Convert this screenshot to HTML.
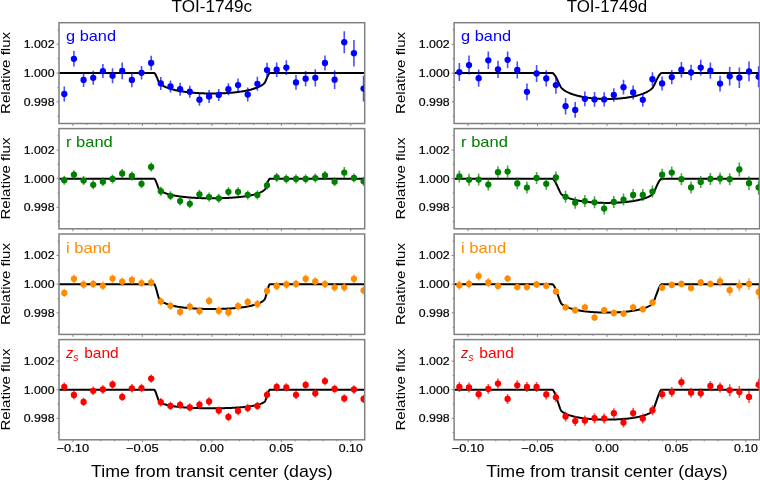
<!DOCTYPE html><html><head><meta charset="utf-8"><style>html,body{margin:0;padding:0;background:#fff;}svg{display:block;will-change:transform;}text{font-family:"Liberation Sans", sans-serif;} .k{stroke:#000;stroke-width:0.2px;}</style></head><body>
<svg width="760" height="480" viewBox="0 0 760 480">
<rect width="760" height="480" fill="#fff"/>
<defs>
<clipPath id="cL0"><rect x="59" y="22.7" width="305.7" height="100.8"/></clipPath>
<clipPath id="cL1"><rect x="59" y="128.6" width="305.7" height="100.2"/></clipPath>
<clipPath id="cL2"><rect x="59" y="234" width="305.7" height="100.4"/></clipPath>
<clipPath id="cL3"><rect x="59" y="339.6" width="305.7" height="100.2"/></clipPath>
<clipPath id="cR0"><rect x="454.1" y="22.7" width="305.5" height="100.8"/></clipPath>
<clipPath id="cR1"><rect x="454.1" y="128.6" width="305.5" height="100.2"/></clipPath>
<clipPath id="cR2"><rect x="454.1" y="234" width="305.5" height="100.4"/></clipPath>
<clipPath id="cR3"><rect x="454.1" y="339.6" width="305.5" height="100.2"/></clipPath>
</defs>
<g clip-path="url(#cL0)">
<polyline points="59,73.1 59.77,73.1 60.53,73.1 61.3,73.1 62.06,73.1 62.83,73.1 63.6,73.1 64.36,73.1 65.13,73.1 65.9,73.1 66.66,73.1 67.43,73.1 68.19,73.1 68.96,73.1 69.73,73.1 70.49,73.1 71.26,73.1 72.02,73.1 72.79,73.1 73.56,73.1 74.32,73.1 75.09,73.1 75.86,73.1 76.62,73.1 77.39,73.1 78.15,73.1 78.92,73.1 79.69,73.1 80.45,73.1 81.22,73.1 81.98,73.1 82.75,73.1 83.52,73.1 84.28,73.1 85.05,73.1 85.82,73.1 86.58,73.1 87.35,73.1 88.11,73.1 88.88,73.1 89.65,73.1 90.41,73.1 91.18,73.1 91.95,73.1 92.71,73.1 93.48,73.1 94.24,73.1 95.01,73.1 95.78,73.1 96.54,73.1 97.31,73.1 98.07,73.1 98.84,73.1 99.61,73.1 100.37,73.1 101.14,73.1 101.91,73.1 102.67,73.1 103.44,73.1 104.2,73.1 104.97,73.1 105.74,73.1 106.5,73.1 107.27,73.1 108.03,73.1 108.8,73.1 109.57,73.1 110.33,73.1 111.1,73.1 111.87,73.1 112.63,73.1 113.4,73.1 114.16,73.1 114.93,73.1 115.7,73.1 116.46,73.1 117.23,73.1 117.99,73.1 118.76,73.1 119.53,73.1 120.29,73.1 121.06,73.1 121.83,73.1 122.59,73.1 123.36,73.1 124.12,73.1 124.89,73.1 125.66,73.1 126.42,73.1 127.19,73.1 127.95,73.1 128.72,73.1 129.49,73.1 130.25,73.1 131.02,73.1 131.79,73.1 132.55,73.1 133.32,73.1 134.08,73.1 134.85,73.1 135.62,73.1 136.38,73.1 137.15,73.1 137.92,73.1 138.68,73.1 139.45,73.1 140.21,73.1 140.98,73.1 141.75,73.1 142.51,73.1 143.28,73.1 144.04,73.1 144.81,73.1 145.58,73.1 146.34,73.1 147.11,73.1 147.88,73.1 148.64,73.1 149.41,73.1 150.17,73.1 150.94,73.1 151.71,73.1 152.2,73.1 152.4,73.1 152.47,73.1 152.6,73.1 152.8,73.1 153,73.1 153.2,73.1 153.24,73.1 153.4,73.1 153.6,73.1 153.8,73.1 154,73.1 154,73.1 154.2,73.1 154.4,73.17 154.6,73.31 154.77,73.47 154.8,73.5 155,73.74 155.2,74.01 155.4,74.32 155.54,74.54 155.6,74.65 155.8,75.02 156,75.41 156.2,75.83 156.3,76.05 157.07,77.82 157.2,78.14 157.4,78.63 157.6,79.13 157.8,79.63 157.84,79.71 158,80.12 158.2,80.6 158.4,81.07 158.6,81.53 158.6,81.53 158.8,81.96 159,82.35 159.2,82.67 159.37,82.88 159.4,82.91 159.6,83.13 159.8,83.34 160,83.53 160.13,83.66 160.2,83.72 160.4,83.89 160.6,84.06 160.8,84.22 160.9,84.3 161,84.38 161.2,84.53 161.67,84.86 162.43,85.37 163.2,85.82 163.96,86.24 164.73,86.62 165.5,86.98 166.26,87.32 167.03,87.63 167.8,87.92 168.56,88.2 169.33,88.47 170.09,88.72 170.86,88.95 171.63,89.18 172.39,89.39 173.16,89.6 173.92,89.79 174.69,89.98 175.46,90.16 176.22,90.33 176.99,90.5 177.76,90.65 178.52,90.8 179.29,90.95 180.05,91.09 180.82,91.22 181.59,91.35 182.35,91.47 183.12,91.59 183.88,91.7 184.65,91.81 185.42,91.91 186.18,92.01 186.95,92.11 187.72,92.2 188.48,92.28 189.25,92.37 190.01,92.45 190.78,92.53 191.55,92.6 192.31,92.67 193.08,92.74 193.85,92.8 194.61,92.86 195.38,92.92 196.14,92.97 196.91,93.02 197.68,93.07 198.44,93.12 199.21,93.16 199.97,93.2 200.74,93.24 201.51,93.27 202.27,93.31 203.04,93.33 203.81,93.36 204.57,93.39 205.34,93.41 206.1,93.43 206.87,93.45 207.64,93.46 208.4,93.47 209.17,93.48 209.93,93.49 210.7,93.5 211.47,93.5 212.23,93.5 213,93.5 213.77,93.49 214.53,93.49 215.3,93.48 216.06,93.47 216.83,93.45 217.6,93.44 218.36,93.42 219.13,93.4 219.89,93.37 220.66,93.35 221.43,93.32 222.19,93.29 222.96,93.25 223.73,93.22 224.49,93.18 225.26,93.13 226.02,93.09 226.79,93.04 227.56,92.99 228.32,92.94 229.09,92.88 229.85,92.82 230.62,92.76 231.39,92.7 232.15,92.63 232.92,92.55 233.69,92.48 234.45,92.4 235.22,92.32 235.98,92.23 236.75,92.14 237.52,92.05 238.28,91.95 239.05,91.85 239.82,91.74 240.58,91.63 241.35,91.52 242.11,91.4 242.88,91.27 243.65,91.14 244.41,91 245.18,90.86 245.94,90.71 246.71,90.56 247.48,90.4 248.24,90.23 249.01,90.05 249.78,89.87 250.54,89.68 251.31,89.48 252.07,89.26 252.84,89.04 253.61,88.81 254.37,88.57 255.14,88.31 255.9,88.04 256.67,87.75 257.44,87.44 258.2,87.12 258.97,86.77 259.74,86.39 260.5,85.99 261.27,85.55 262.03,85.07 262.8,84.53 263,84.38 263.2,84.22 263.4,84.06 263.57,83.92 263.6,83.89 263.8,83.72 264,83.53 264.2,83.34 264.33,83.2 264.4,83.13 264.6,82.91 264.8,82.67 265,82.35 265.1,82.16 265.2,81.96 265.4,81.53 265.6,81.07 265.8,80.6 265.86,80.45 266,80.12 266.2,79.63 266.4,79.13 266.6,78.63 266.63,78.55 266.8,78.14 267.4,76.72 267.8,75.83 268,75.41 268.16,75.09 268.2,75.02 268.4,74.65 268.6,74.32 268.8,74.01 268.93,73.83 269,73.74 269.2,73.5 269.4,73.31 269.6,73.17 269.7,73.13 269.8,73.1 270,73.1 270.2,73.1 270.4,73.1 270.46,73.1 270.6,73.1 270.8,73.1 271,73.1 271.2,73.1 271.23,73.1 271.4,73.1 271.6,73.1 271.8,73.1 271.99,73.1 272.76,73.1 273.53,73.1 274.29,73.1 275.06,73.1 275.82,73.1 276.59,73.1 277.36,73.1 278.12,73.1 278.89,73.1 279.66,73.1 280.42,73.1 281.19,73.1 281.95,73.1 282.72,73.1 283.49,73.1 284.25,73.1 285.02,73.1 285.78,73.1 286.55,73.1 287.32,73.1 288.08,73.1 288.85,73.1 289.62,73.1 290.38,73.1 291.15,73.1 291.91,73.1 292.68,73.1 293.45,73.1 294.21,73.1 294.98,73.1 295.75,73.1 296.51,73.1 297.28,73.1 298.04,73.1 298.81,73.1 299.58,73.1 300.34,73.1 301.11,73.1 301.87,73.1 302.64,73.1 303.41,73.1 304.17,73.1 304.94,73.1 305.71,73.1 306.47,73.1 307.24,73.1 308,73.1 308.77,73.1 309.54,73.1 310.3,73.1 311.07,73.1 311.83,73.1 312.6,73.1 313.37,73.1 314.13,73.1 314.9,73.1 315.67,73.1 316.43,73.1 317.2,73.1 317.96,73.1 318.73,73.1 319.5,73.1 320.26,73.1 321.03,73.1 321.79,73.1 322.56,73.1 323.33,73.1 324.09,73.1 324.86,73.1 325.63,73.1 326.39,73.1 327.16,73.1 327.92,73.1 328.69,73.1 329.46,73.1 330.22,73.1 330.99,73.1 331.75,73.1 332.52,73.1 333.29,73.1 334.05,73.1 334.82,73.1 335.59,73.1 336.35,73.1 337.12,73.1 337.88,73.1 338.65,73.1 339.42,73.1 340.18,73.1 340.95,73.1 341.72,73.1 342.48,73.1 343.25,73.1 344.01,73.1 344.78,73.1 345.55,73.1 346.31,73.1 347.08,73.1 347.84,73.1 348.61,73.1 349.38,73.1 350.14,73.1 350.91,73.1 351.68,73.1 352.44,73.1 353.21,73.1 353.97,73.1 354.74,73.1 355.51,73.1 356.27,73.1 357.04,73.1 357.8,73.1 358.57,73.1 359.34,73.1 360.1,73.1 360.87,73.1 361.64,73.1 362.4,73.1 363.17,73.1 363.93,73.1 364.7,73.1" fill="none" stroke="#000" stroke-width="2"/>
<path d="M64.27 86.4V101.6M73.92 51V66.6M83.58 72.9V86.9M93.23 70.8V84.8M102.89 64.1V78.1M112.54 68.2V83.2M122.2 62.6V79.2M131.85 72.6V87.2M141.51 66.1V79.5M151.16 55.7V70.3M160.82 76.9V89.9M170.47 80.5V92.5M180.13 82.75V95.75M189.78 85.75V97.75M199.44 93.7V105.7M209.09 90V103M218.75 88.9V100.9M228.4 83.25V95.25M238.06 78.6V91.6M247.71 87.5V101.5M257.37 76.8V90.8M267.02 62.8V77.4M276.68 62.4V77M286.33 60.3V74.9M295.99 75.1V89.7M305.64 71.1V86.3M315.3 69.2V86.4M324.95 55.4V70.6M334.61 70.3V89.1M344.26 31.2V53.2M353.92 39.9V66.5M363.57 75.8V101.4" stroke="#0000ff" stroke-width="1.6" stroke-opacity="0.7" fill="none"/>
<g fill="#0000ff"><circle cx="64.27" cy="94" r="3.15"/><circle cx="73.92" cy="58.8" r="3.15"/><circle cx="83.58" cy="79.9" r="3.15"/><circle cx="93.23" cy="77.8" r="3.15"/><circle cx="102.89" cy="71.1" r="3.15"/><circle cx="112.54" cy="75.7" r="3.15"/><circle cx="122.2" cy="70.9" r="3.15"/><circle cx="131.85" cy="79.9" r="3.15"/><circle cx="141.51" cy="72.8" r="3.15"/><circle cx="151.16" cy="63" r="3.15"/><circle cx="160.82" cy="83.4" r="3.15"/><circle cx="170.47" cy="86.5" r="3.15"/><circle cx="180.13" cy="89.25" r="3.15"/><circle cx="189.78" cy="91.75" r="3.15"/><circle cx="199.44" cy="99.7" r="3.15"/><circle cx="209.09" cy="96.5" r="3.15"/><circle cx="218.75" cy="94.9" r="3.15"/><circle cx="228.4" cy="89.25" r="3.15"/><circle cx="238.06" cy="85.1" r="3.15"/><circle cx="247.71" cy="94.5" r="3.15"/><circle cx="257.37" cy="83.8" r="3.15"/><circle cx="267.02" cy="70.1" r="3.15"/><circle cx="276.68" cy="69.7" r="3.15"/><circle cx="286.33" cy="67.6" r="3.15"/><circle cx="295.99" cy="82.4" r="3.15"/><circle cx="305.64" cy="78.7" r="3.15"/><circle cx="315.3" cy="77.8" r="3.15"/><circle cx="324.95" cy="63" r="3.15"/><circle cx="334.61" cy="79.7" r="3.15"/><circle cx="344.26" cy="42.2" r="3.15"/><circle cx="353.92" cy="53.2" r="3.15"/><circle cx="363.57" cy="88.6" r="3.15"/></g>
</g>
<rect x="59" y="22.7" width="305.7" height="100.8" fill="none" stroke="#808080" stroke-width="1.5"/>
<path d="M56.5 101.9H59M56.5 73.1H59M56.5 44.3H59M57.5 116.3H59M57.5 87.5H59M57.5 58.7H59M57.5 29.9H59M72.9 123.5V126M86.79 123.5V125M100.69 123.5V125M114.58 123.5V125M128.48 123.5V125M142.37 123.5V126M156.27 123.5V125M170.16 123.5V125M184.06 123.5V125M197.95 123.5V125M211.85 123.5V126M225.75 123.5V125M239.64 123.5V125M253.54 123.5V125M267.43 123.5V125M281.33 123.5V126M295.22 123.5V125M309.12 123.5V125M323.01 123.5V125M336.91 123.5V125M350.8 123.5V126" stroke="#808080" stroke-width="0.9" fill="none"/>
<text x="54.5" y="48.2" font-size="11.6" text-anchor="end" textLength="30.8" lengthAdjust="spacingAndGlyphs" fill="#000" class="k">1.002</text>
<text x="54.5" y="77" font-size="11.6" text-anchor="end" textLength="30.8" lengthAdjust="spacingAndGlyphs" fill="#000" class="k">1.000</text>
<text x="54.5" y="105.8" font-size="11.6" text-anchor="end" textLength="30.8" lengthAdjust="spacingAndGlyphs" fill="#000" class="k">0.998</text>
<text transform="translate(10.1 72.9) rotate(-90)" font-size="13.6" text-anchor="middle" textLength="82" lengthAdjust="spacingAndGlyphs" fill="#000">Relative flux</text>
<text x="66" y="41.3" font-size="14.6" textLength="50" lengthAdjust="spacingAndGlyphs" fill="#0000ff">g band</text>
<g clip-path="url(#cL1)">
<polyline points="59,178.7 59.77,178.7 60.53,178.7 61.3,178.7 62.06,178.7 62.83,178.7 63.6,178.7 64.36,178.7 65.13,178.7 65.9,178.7 66.66,178.7 67.43,178.7 68.19,178.7 68.96,178.7 69.73,178.7 70.49,178.7 71.26,178.7 72.02,178.7 72.79,178.7 73.56,178.7 74.32,178.7 75.09,178.7 75.86,178.7 76.62,178.7 77.39,178.7 78.15,178.7 78.92,178.7 79.69,178.7 80.45,178.7 81.22,178.7 81.98,178.7 82.75,178.7 83.52,178.7 84.28,178.7 85.05,178.7 85.82,178.7 86.58,178.7 87.35,178.7 88.11,178.7 88.88,178.7 89.65,178.7 90.41,178.7 91.18,178.7 91.95,178.7 92.71,178.7 93.48,178.7 94.24,178.7 95.01,178.7 95.78,178.7 96.54,178.7 97.31,178.7 98.07,178.7 98.84,178.7 99.61,178.7 100.37,178.7 101.14,178.7 101.91,178.7 102.67,178.7 103.44,178.7 104.2,178.7 104.97,178.7 105.74,178.7 106.5,178.7 107.27,178.7 108.03,178.7 108.8,178.7 109.57,178.7 110.33,178.7 111.1,178.7 111.87,178.7 112.63,178.7 113.4,178.7 114.16,178.7 114.93,178.7 115.7,178.7 116.46,178.7 117.23,178.7 117.99,178.7 118.76,178.7 119.53,178.7 120.29,178.7 121.06,178.7 121.83,178.7 122.59,178.7 123.36,178.7 124.12,178.7 124.89,178.7 125.66,178.7 126.42,178.7 127.19,178.7 127.95,178.7 128.72,178.7 129.49,178.7 130.25,178.7 131.02,178.7 131.79,178.7 132.55,178.7 133.32,178.7 134.08,178.7 134.85,178.7 135.62,178.7 136.38,178.7 137.15,178.7 137.92,178.7 138.68,178.7 139.45,178.7 140.21,178.7 140.98,178.7 141.75,178.7 142.51,178.7 143.28,178.7 144.04,178.7 144.81,178.7 145.58,178.7 146.34,178.7 147.11,178.7 147.88,178.7 148.64,178.7 149.41,178.7 150.17,178.7 150.94,178.7 151.71,178.7 152.2,178.7 152.4,178.7 152.47,178.7 152.6,178.7 152.8,178.7 153,178.7 153.2,178.7 153.24,178.7 153.4,178.7 153.6,178.7 153.8,178.7 154,178.7 154,178.7 154.2,178.7 154.4,178.79 154.6,178.97 154.77,179.18 154.8,179.21 155,179.5 155.2,179.83 155.4,180.2 155.54,180.47 155.6,180.6 155.8,181.04 156,181.5 156.2,181.98 156.3,182.24 157.07,184.25 157.2,184.61 157.4,185.16 157.6,185.72 157.8,186.26 157.84,186.36 158,186.8 158.2,187.32 158.4,187.83 158.6,188.32 158.6,188.32 158.8,188.77 159,189.17 159.2,189.48 159.37,189.66 159.4,189.69 159.6,189.88 159.8,190.06 160,190.23 160.13,190.34 160.2,190.39 160.4,190.54 160.6,190.69 160.8,190.83 160.9,190.89 161,190.96 161.2,191.09 161.67,191.38 162.43,191.8 163.2,192.19 163.96,192.54 164.73,192.86 165.5,193.16 166.26,193.44 167.03,193.7 167.8,193.94 168.56,194.17 169.33,194.38 170.09,194.59 170.86,194.78 171.63,194.96 172.39,195.13 173.16,195.3 173.92,195.46 174.69,195.6 175.46,195.75 176.22,195.88 176.99,196.01 177.76,196.13 178.52,196.25 179.29,196.37 180.05,196.47 180.82,196.58 181.59,196.68 182.35,196.77 183.12,196.86 183.88,196.95 184.65,197.03 185.42,197.11 186.18,197.19 186.95,197.26 187.72,197.33 188.48,197.39 189.25,197.46 190.01,197.52 190.78,197.58 191.55,197.63 192.31,197.68 193.08,197.73 193.85,197.78 194.61,197.83 195.38,197.87 196.14,197.91 196.91,197.95 197.68,197.98 198.44,198.02 199.21,198.05 199.97,198.08 200.74,198.11 201.51,198.13 202.27,198.16 203.04,198.18 203.81,198.2 204.57,198.22 205.34,198.23 206.1,198.25 206.87,198.26 207.64,198.27 208.4,198.28 209.17,198.29 209.93,198.29 210.7,198.3 211.47,198.3 212.23,198.3 213,198.3 213.77,198.3 214.53,198.29 215.3,198.28 216.06,198.28 216.83,198.27 217.6,198.25 218.36,198.24 219.13,198.22 219.89,198.21 220.66,198.19 221.43,198.17 222.19,198.14 222.96,198.12 223.73,198.09 224.49,198.06 225.26,198.03 226.02,198 226.79,197.96 227.56,197.92 228.32,197.89 229.09,197.84 229.85,197.8 230.62,197.75 231.39,197.7 232.15,197.65 232.92,197.6 233.69,197.54 234.45,197.48 235.22,197.42 235.98,197.35 236.75,197.29 237.52,197.21 238.28,197.14 239.05,197.06 239.82,196.98 240.58,196.9 241.35,196.81 242.11,196.71 242.88,196.62 243.65,196.51 244.41,196.41 245.18,196.3 245.94,196.18 246.71,196.06 247.48,195.93 248.24,195.8 249.01,195.66 249.78,195.51 250.54,195.36 251.31,195.2 252.07,195.03 252.84,194.85 253.61,194.66 254.37,194.47 255.14,194.25 255.9,194.03 256.67,193.79 257.44,193.54 258.2,193.27 258.97,192.98 259.74,192.67 260.5,192.33 261.27,191.96 262.03,191.55 262.8,191.09 263,190.96 263.2,190.83 263.4,190.69 263.57,190.57 263.6,190.54 263.8,190.39 264,190.23 264.2,190.06 264.33,189.94 264.4,189.88 264.6,189.69 264.8,189.48 265,189.17 265.1,188.97 265.2,188.77 265.4,188.32 265.6,187.83 265.8,187.32 265.86,187.16 266,186.8 266.2,186.26 266.4,185.72 266.6,185.16 266.63,185.07 266.8,184.61 267.4,183.01 267.8,181.98 268,181.5 268.16,181.12 268.2,181.04 268.4,180.6 268.6,180.2 268.8,179.83 268.93,179.61 269,179.5 269.2,179.21 269.4,178.97 269.6,178.79 269.7,178.74 269.8,178.7 270,178.7 270.2,178.7 270.4,178.7 270.46,178.7 270.6,178.7 270.8,178.7 271,178.7 271.2,178.7 271.23,178.7 271.4,178.7 271.6,178.7 271.8,178.7 271.99,178.7 272.76,178.7 273.53,178.7 274.29,178.7 275.06,178.7 275.82,178.7 276.59,178.7 277.36,178.7 278.12,178.7 278.89,178.7 279.66,178.7 280.42,178.7 281.19,178.7 281.95,178.7 282.72,178.7 283.49,178.7 284.25,178.7 285.02,178.7 285.78,178.7 286.55,178.7 287.32,178.7 288.08,178.7 288.85,178.7 289.62,178.7 290.38,178.7 291.15,178.7 291.91,178.7 292.68,178.7 293.45,178.7 294.21,178.7 294.98,178.7 295.75,178.7 296.51,178.7 297.28,178.7 298.04,178.7 298.81,178.7 299.58,178.7 300.34,178.7 301.11,178.7 301.87,178.7 302.64,178.7 303.41,178.7 304.17,178.7 304.94,178.7 305.71,178.7 306.47,178.7 307.24,178.7 308,178.7 308.77,178.7 309.54,178.7 310.3,178.7 311.07,178.7 311.83,178.7 312.6,178.7 313.37,178.7 314.13,178.7 314.9,178.7 315.67,178.7 316.43,178.7 317.2,178.7 317.96,178.7 318.73,178.7 319.5,178.7 320.26,178.7 321.03,178.7 321.79,178.7 322.56,178.7 323.33,178.7 324.09,178.7 324.86,178.7 325.63,178.7 326.39,178.7 327.16,178.7 327.92,178.7 328.69,178.7 329.46,178.7 330.22,178.7 330.99,178.7 331.75,178.7 332.52,178.7 333.29,178.7 334.05,178.7 334.82,178.7 335.59,178.7 336.35,178.7 337.12,178.7 337.88,178.7 338.65,178.7 339.42,178.7 340.18,178.7 340.95,178.7 341.72,178.7 342.48,178.7 343.25,178.7 344.01,178.7 344.78,178.7 345.55,178.7 346.31,178.7 347.08,178.7 347.84,178.7 348.61,178.7 349.38,178.7 350.14,178.7 350.91,178.7 351.68,178.7 352.44,178.7 353.21,178.7 353.97,178.7 354.74,178.7 355.51,178.7 356.27,178.7 357.04,178.7 357.8,178.7 358.57,178.7 359.34,178.7 360.1,178.7 360.87,178.7 361.64,178.7 362.4,178.7 363.17,178.7 363.93,178.7 364.7,178.7" fill="none" stroke="#000" stroke-width="2"/>
<path d="M64.27 175.7V184.7M73.92 170.2V179.2M83.58 176.1V185.1M93.23 180.3V189.3M102.89 177.2V186.2M112.54 174.4V183.4M122.2 169V178M131.85 171.5V180.5M141.51 179.3V188.3M151.16 162.5V171.5M160.82 186.7V195.7M170.47 191.3V200.3M180.13 196.55V205.55M189.78 199.3V208.3M199.44 189.8V198.8M209.09 192.55V201.55M218.75 193.8V202.8M228.4 187.3V196.3M238.06 187.3V196.3M247.71 190.4V199.4M257.37 190.4V199.4M267.02 180.8V189.8M276.68 173V182M286.33 174.4V183.4M295.99 174.4V183.4M305.64 174.4V183.4M315.3 173.6V182.6M324.95 170.9V179.9M334.61 177.2V186.2M344.26 167.1V178.1M353.92 173.4V182.4M363.57 176.8V185.8" stroke="#008000" stroke-width="1.6" stroke-opacity="0.7" fill="none"/>
<g fill="#008000"><circle cx="64.27" cy="180.2" r="3.15"/><circle cx="73.92" cy="174.7" r="3.15"/><circle cx="83.58" cy="180.6" r="3.15"/><circle cx="93.23" cy="184.8" r="3.15"/><circle cx="102.89" cy="181.7" r="3.15"/><circle cx="112.54" cy="178.9" r="3.15"/><circle cx="122.2" cy="173.5" r="3.15"/><circle cx="131.85" cy="176" r="3.15"/><circle cx="141.51" cy="183.8" r="3.15"/><circle cx="151.16" cy="167" r="3.15"/><circle cx="160.82" cy="191.2" r="3.15"/><circle cx="170.47" cy="195.8" r="3.15"/><circle cx="180.13" cy="201.05" r="3.15"/><circle cx="189.78" cy="203.8" r="3.15"/><circle cx="199.44" cy="194.3" r="3.15"/><circle cx="209.09" cy="197.05" r="3.15"/><circle cx="218.75" cy="198.3" r="3.15"/><circle cx="228.4" cy="191.8" r="3.15"/><circle cx="238.06" cy="191.8" r="3.15"/><circle cx="247.71" cy="194.9" r="3.15"/><circle cx="257.37" cy="194.9" r="3.15"/><circle cx="267.02" cy="185.3" r="3.15"/><circle cx="276.68" cy="177.5" r="3.15"/><circle cx="286.33" cy="178.9" r="3.15"/><circle cx="295.99" cy="178.9" r="3.15"/><circle cx="305.64" cy="178.9" r="3.15"/><circle cx="315.3" cy="178.1" r="3.15"/><circle cx="324.95" cy="175.4" r="3.15"/><circle cx="334.61" cy="181.7" r="3.15"/><circle cx="344.26" cy="172.6" r="3.15"/><circle cx="353.92" cy="177.9" r="3.15"/><circle cx="363.57" cy="181.3" r="3.15"/></g>
</g>
<rect x="59" y="128.6" width="305.7" height="100.2" fill="none" stroke="#808080" stroke-width="1.5"/>
<path d="M56.5 207.33H59M56.5 178.7H59M56.5 150.07H59M57.5 221.64H59M57.5 193.01H59M57.5 164.39H59M57.5 135.76H59M72.9 228.8V231.3M86.79 228.8V230.3M100.69 228.8V230.3M114.58 228.8V230.3M128.48 228.8V230.3M142.37 228.8V231.3M156.27 228.8V230.3M170.16 228.8V230.3M184.06 228.8V230.3M197.95 228.8V230.3M211.85 228.8V231.3M225.75 228.8V230.3M239.64 228.8V230.3M253.54 228.8V230.3M267.43 228.8V230.3M281.33 228.8V231.3M295.22 228.8V230.3M309.12 228.8V230.3M323.01 228.8V230.3M336.91 228.8V230.3M350.8 228.8V231.3" stroke="#808080" stroke-width="0.9" fill="none"/>
<text x="54.5" y="153.97" font-size="11.6" text-anchor="end" textLength="30.8" lengthAdjust="spacingAndGlyphs" fill="#000" class="k">1.002</text>
<text x="54.5" y="182.6" font-size="11.6" text-anchor="end" textLength="30.8" lengthAdjust="spacingAndGlyphs" fill="#000" class="k">1.000</text>
<text x="54.5" y="211.23" font-size="11.6" text-anchor="end" textLength="30.8" lengthAdjust="spacingAndGlyphs" fill="#000" class="k">0.998</text>
<text transform="translate(10.1 178.5) rotate(-90)" font-size="13.6" text-anchor="middle" textLength="82" lengthAdjust="spacingAndGlyphs" fill="#000">Relative flux</text>
<text x="66" y="147.2" font-size="14.6" textLength="46.8" lengthAdjust="spacingAndGlyphs" fill="#008000">r band</text>
<g clip-path="url(#cL2)">
<polyline points="59,284.2 59.77,284.2 60.53,284.2 61.3,284.2 62.06,284.2 62.83,284.2 63.6,284.2 64.36,284.2 65.13,284.2 65.9,284.2 66.66,284.2 67.43,284.2 68.19,284.2 68.96,284.2 69.73,284.2 70.49,284.2 71.26,284.2 72.02,284.2 72.79,284.2 73.56,284.2 74.32,284.2 75.09,284.2 75.86,284.2 76.62,284.2 77.39,284.2 78.15,284.2 78.92,284.2 79.69,284.2 80.45,284.2 81.22,284.2 81.98,284.2 82.75,284.2 83.52,284.2 84.28,284.2 85.05,284.2 85.82,284.2 86.58,284.2 87.35,284.2 88.11,284.2 88.88,284.2 89.65,284.2 90.41,284.2 91.18,284.2 91.95,284.2 92.71,284.2 93.48,284.2 94.24,284.2 95.01,284.2 95.78,284.2 96.54,284.2 97.31,284.2 98.07,284.2 98.84,284.2 99.61,284.2 100.37,284.2 101.14,284.2 101.91,284.2 102.67,284.2 103.44,284.2 104.2,284.2 104.97,284.2 105.74,284.2 106.5,284.2 107.27,284.2 108.03,284.2 108.8,284.2 109.57,284.2 110.33,284.2 111.1,284.2 111.87,284.2 112.63,284.2 113.4,284.2 114.16,284.2 114.93,284.2 115.7,284.2 116.46,284.2 117.23,284.2 117.99,284.2 118.76,284.2 119.53,284.2 120.29,284.2 121.06,284.2 121.83,284.2 122.59,284.2 123.36,284.2 124.12,284.2 124.89,284.2 125.66,284.2 126.42,284.2 127.19,284.2 127.95,284.2 128.72,284.2 129.49,284.2 130.25,284.2 131.02,284.2 131.79,284.2 132.55,284.2 133.32,284.2 134.08,284.2 134.85,284.2 135.62,284.2 136.38,284.2 137.15,284.2 137.92,284.2 138.68,284.2 139.45,284.2 140.21,284.2 140.98,284.2 141.75,284.2 142.51,284.2 143.28,284.2 144.04,284.2 144.81,284.2 145.58,284.2 146.34,284.2 147.11,284.2 147.88,284.2 148.64,284.2 149.41,284.2 150.17,284.2 150.94,284.2 151.71,284.2 152.2,284.2 152.4,284.2 152.47,284.2 152.6,284.2 152.8,284.2 153,284.2 153.2,284.2 153.24,284.2 153.4,284.2 153.6,284.2 153.8,284.2 154,284.2 154,284.2 154.2,284.2 154.4,284.34 154.6,284.6 154.77,284.9 154.8,284.95 155,285.38 155.2,285.86 155.4,286.39 155.54,286.78 155.6,286.97 155.8,287.59 156,288.24 156.2,288.91 156.3,289.28 157.07,292.11 157.2,292.6 157.4,293.37 157.6,294.13 157.8,294.89 157.84,295.01 158,295.62 158.2,296.33 158.4,297.02 158.6,297.68 158.6,297.68 158.8,298.28 159,298.81 159.2,299.21 159.37,299.42 159.4,299.45 159.6,299.68 159.8,299.88 160,300.08 160.13,300.21 160.2,300.27 160.4,300.44 160.6,300.61 160.8,300.77 160.9,300.85 161,300.93 161.2,301.08 161.67,301.41 162.43,301.9 163.2,302.34 163.96,302.75 164.73,303.11 165.5,303.45 166.26,303.77 167.03,304.06 167.8,304.33 168.56,304.58 169.33,304.82 170.09,305.05 170.86,305.26 171.63,305.46 172.39,305.65 173.16,305.83 173.92,306 174.69,306.17 175.46,306.32 176.22,306.47 176.99,306.61 177.76,306.74 178.52,306.87 179.29,306.99 180.05,307.1 180.82,307.21 181.59,307.32 182.35,307.42 183.12,307.51 183.88,307.61 184.65,307.69 185.42,307.78 186.18,307.86 186.95,307.93 187.72,308 188.48,308.07 189.25,308.14 190.01,308.2 190.78,308.26 191.55,308.32 192.31,308.37 193.08,308.42 193.85,308.47 194.61,308.52 195.38,308.56 196.14,308.6 196.91,308.64 197.68,308.68 198.44,308.71 199.21,308.75 199.97,308.78 200.74,308.81 201.51,308.83 202.27,308.86 203.04,308.88 203.81,308.9 204.57,308.92 205.34,308.93 206.1,308.95 206.87,308.96 207.64,308.97 208.4,308.98 209.17,308.99 209.93,308.99 210.7,309 211.47,309 212.23,309 213,309 213.77,309 214.53,308.99 215.3,308.98 216.06,308.98 216.83,308.96 217.6,308.95 218.36,308.94 219.13,308.92 219.89,308.91 220.66,308.89 221.43,308.86 222.19,308.84 222.96,308.82 223.73,308.79 224.49,308.76 225.26,308.73 226.02,308.69 226.79,308.66 227.56,308.62 228.32,308.58 229.09,308.54 229.85,308.49 230.62,308.44 231.39,308.39 232.15,308.34 232.92,308.28 233.69,308.23 234.45,308.16 235.22,308.1 235.98,308.03 236.75,307.96 237.52,307.89 238.28,307.81 239.05,307.73 239.82,307.64 240.58,307.55 241.35,307.46 242.11,307.36 242.88,307.26 243.65,307.15 244.41,307.03 245.18,306.92 245.94,306.79 246.71,306.66 247.48,306.52 248.24,306.38 249.01,306.23 249.78,306.07 250.54,305.9 251.31,305.72 252.07,305.54 252.84,305.34 253.61,305.13 254.37,304.91 255.14,304.68 255.9,304.43 256.67,304.17 257.44,303.88 258.2,303.58 258.97,303.25 259.74,302.89 260.5,302.51 261.27,302.08 262.03,301.61 262.8,301.08 263,300.93 263.2,300.77 263.4,300.61 263.57,300.47 263.6,300.44 263.8,300.27 264,300.08 264.2,299.88 264.33,299.75 264.4,299.68 264.6,299.45 264.8,299.21 265,298.81 265.1,298.55 265.2,298.28 265.4,297.68 265.6,297.02 265.8,296.33 265.86,296.1 266,295.62 266.2,294.89 266.4,294.13 266.6,293.37 266.63,293.24 266.8,292.6 267.4,290.36 267.8,288.91 268,288.24 268.16,287.7 268.2,287.59 268.4,286.97 268.6,286.39 268.8,285.86 268.93,285.54 269,285.38 269.2,284.95 269.4,284.6 269.6,284.34 269.7,284.26 269.8,284.2 270,284.2 270.2,284.2 270.4,284.2 270.46,284.2 270.6,284.2 270.8,284.2 271,284.2 271.2,284.2 271.23,284.2 271.4,284.2 271.6,284.2 271.8,284.2 271.99,284.2 272.76,284.2 273.53,284.2 274.29,284.2 275.06,284.2 275.82,284.2 276.59,284.2 277.36,284.2 278.12,284.2 278.89,284.2 279.66,284.2 280.42,284.2 281.19,284.2 281.95,284.2 282.72,284.2 283.49,284.2 284.25,284.2 285.02,284.2 285.78,284.2 286.55,284.2 287.32,284.2 288.08,284.2 288.85,284.2 289.62,284.2 290.38,284.2 291.15,284.2 291.91,284.2 292.68,284.2 293.45,284.2 294.21,284.2 294.98,284.2 295.75,284.2 296.51,284.2 297.28,284.2 298.04,284.2 298.81,284.2 299.58,284.2 300.34,284.2 301.11,284.2 301.87,284.2 302.64,284.2 303.41,284.2 304.17,284.2 304.94,284.2 305.71,284.2 306.47,284.2 307.24,284.2 308,284.2 308.77,284.2 309.54,284.2 310.3,284.2 311.07,284.2 311.83,284.2 312.6,284.2 313.37,284.2 314.13,284.2 314.9,284.2 315.67,284.2 316.43,284.2 317.2,284.2 317.96,284.2 318.73,284.2 319.5,284.2 320.26,284.2 321.03,284.2 321.79,284.2 322.56,284.2 323.33,284.2 324.09,284.2 324.86,284.2 325.63,284.2 326.39,284.2 327.16,284.2 327.92,284.2 328.69,284.2 329.46,284.2 330.22,284.2 330.99,284.2 331.75,284.2 332.52,284.2 333.29,284.2 334.05,284.2 334.82,284.2 335.59,284.2 336.35,284.2 337.12,284.2 337.88,284.2 338.65,284.2 339.42,284.2 340.18,284.2 340.95,284.2 341.72,284.2 342.48,284.2 343.25,284.2 344.01,284.2 344.78,284.2 345.55,284.2 346.31,284.2 347.08,284.2 347.84,284.2 348.61,284.2 349.38,284.2 350.14,284.2 350.91,284.2 351.68,284.2 352.44,284.2 353.21,284.2 353.97,284.2 354.74,284.2 355.51,284.2 356.27,284.2 357.04,284.2 357.8,284.2 358.57,284.2 359.34,284.2 360.1,284.2 360.87,284.2 361.64,284.2 362.4,284.2 363.17,284.2 363.93,284.2 364.7,284.2" fill="none" stroke="#000" stroke-width="2"/>
<path d="M64.27 288.7V297.1M73.92 274.6V283M83.58 280.3V288.7M93.23 279.7V288.1M102.89 281.6V290M112.54 274.4V282.8M122.2 277.4V285.8M131.85 275.7V284.1M141.51 278.85V287.25M151.16 278.2V286.6M160.82 297.2V305.6M170.47 301.6V310M180.13 307.7V316.1M189.78 302.4V310.8M199.44 306.85V315.25M209.09 296.7V305.1M218.75 306.5V314.9M228.4 308.3V316.7M238.06 302V310.4M247.71 297.8V306.2M257.37 299.9V308.3M267.02 286.6V295M276.68 281.8V290.2M286.33 280.3V288.7M295.99 279.7V288.1M305.64 274.6V283M315.3 277.2V285.6M324.95 279.9V288.3M334.61 283.1V291.5M344.26 283.1V291.5M353.92 274.6V283M363.57 286.2V294.6" stroke="#ff8c00" stroke-width="1.6" stroke-opacity="0.7" fill="none"/>
<g fill="#ff8c00"><circle cx="64.27" cy="292.9" r="3.15"/><circle cx="73.92" cy="278.8" r="3.15"/><circle cx="83.58" cy="284.5" r="3.15"/><circle cx="93.23" cy="283.9" r="3.15"/><circle cx="102.89" cy="285.8" r="3.15"/><circle cx="112.54" cy="278.6" r="3.15"/><circle cx="122.2" cy="281.6" r="3.15"/><circle cx="131.85" cy="279.9" r="3.15"/><circle cx="141.51" cy="283.05" r="3.15"/><circle cx="151.16" cy="282.4" r="3.15"/><circle cx="160.82" cy="301.4" r="3.15"/><circle cx="170.47" cy="305.8" r="3.15"/><circle cx="180.13" cy="311.9" r="3.15"/><circle cx="189.78" cy="306.6" r="3.15"/><circle cx="199.44" cy="311.05" r="3.15"/><circle cx="209.09" cy="300.9" r="3.15"/><circle cx="218.75" cy="310.7" r="3.15"/><circle cx="228.4" cy="312.5" r="3.15"/><circle cx="238.06" cy="306.2" r="3.15"/><circle cx="247.71" cy="302" r="3.15"/><circle cx="257.37" cy="304.1" r="3.15"/><circle cx="267.02" cy="290.8" r="3.15"/><circle cx="276.68" cy="286" r="3.15"/><circle cx="286.33" cy="284.5" r="3.15"/><circle cx="295.99" cy="283.9" r="3.15"/><circle cx="305.64" cy="278.8" r="3.15"/><circle cx="315.3" cy="281.4" r="3.15"/><circle cx="324.95" cy="284.1" r="3.15"/><circle cx="334.61" cy="287.3" r="3.15"/><circle cx="344.26" cy="287.3" r="3.15"/><circle cx="353.92" cy="278.8" r="3.15"/><circle cx="363.57" cy="290.4" r="3.15"/></g>
</g>
<rect x="59" y="234" width="305.7" height="100.4" fill="none" stroke="#808080" stroke-width="1.5"/>
<path d="M56.5 312.89H59M56.5 284.2H59M56.5 255.51H59M57.5 327.23H59M57.5 298.54H59M57.5 269.86H59M57.5 241.17H59M72.9 334.4V336.9M86.79 334.4V335.9M100.69 334.4V335.9M114.58 334.4V335.9M128.48 334.4V335.9M142.37 334.4V336.9M156.27 334.4V335.9M170.16 334.4V335.9M184.06 334.4V335.9M197.95 334.4V335.9M211.85 334.4V336.9M225.75 334.4V335.9M239.64 334.4V335.9M253.54 334.4V335.9M267.43 334.4V335.9M281.33 334.4V336.9M295.22 334.4V335.9M309.12 334.4V335.9M323.01 334.4V335.9M336.91 334.4V335.9M350.8 334.4V336.9" stroke="#808080" stroke-width="0.9" fill="none"/>
<text x="54.5" y="259.41" font-size="11.6" text-anchor="end" textLength="30.8" lengthAdjust="spacingAndGlyphs" fill="#000" class="k">1.002</text>
<text x="54.5" y="288.1" font-size="11.6" text-anchor="end" textLength="30.8" lengthAdjust="spacingAndGlyphs" fill="#000" class="k">1.000</text>
<text x="54.5" y="316.79" font-size="11.6" text-anchor="end" textLength="30.8" lengthAdjust="spacingAndGlyphs" fill="#000" class="k">0.998</text>
<text transform="translate(10.1 284) rotate(-90)" font-size="13.6" text-anchor="middle" textLength="82" lengthAdjust="spacingAndGlyphs" fill="#000">Relative flux</text>
<text x="66" y="252.6" font-size="14.6" textLength="45" lengthAdjust="spacingAndGlyphs" fill="#ff8c00">i band</text>
<g clip-path="url(#cL3)">
<polyline points="59,389.7 59.77,389.7 60.53,389.7 61.3,389.7 62.06,389.7 62.83,389.7 63.6,389.7 64.36,389.7 65.13,389.7 65.9,389.7 66.66,389.7 67.43,389.7 68.19,389.7 68.96,389.7 69.73,389.7 70.49,389.7 71.26,389.7 72.02,389.7 72.79,389.7 73.56,389.7 74.32,389.7 75.09,389.7 75.86,389.7 76.62,389.7 77.39,389.7 78.15,389.7 78.92,389.7 79.69,389.7 80.45,389.7 81.22,389.7 81.98,389.7 82.75,389.7 83.52,389.7 84.28,389.7 85.05,389.7 85.82,389.7 86.58,389.7 87.35,389.7 88.11,389.7 88.88,389.7 89.65,389.7 90.41,389.7 91.18,389.7 91.95,389.7 92.71,389.7 93.48,389.7 94.24,389.7 95.01,389.7 95.78,389.7 96.54,389.7 97.31,389.7 98.07,389.7 98.84,389.7 99.61,389.7 100.37,389.7 101.14,389.7 101.91,389.7 102.67,389.7 103.44,389.7 104.2,389.7 104.97,389.7 105.74,389.7 106.5,389.7 107.27,389.7 108.03,389.7 108.8,389.7 109.57,389.7 110.33,389.7 111.1,389.7 111.87,389.7 112.63,389.7 113.4,389.7 114.16,389.7 114.93,389.7 115.7,389.7 116.46,389.7 117.23,389.7 117.99,389.7 118.76,389.7 119.53,389.7 120.29,389.7 121.06,389.7 121.83,389.7 122.59,389.7 123.36,389.7 124.12,389.7 124.89,389.7 125.66,389.7 126.42,389.7 127.19,389.7 127.95,389.7 128.72,389.7 129.49,389.7 130.25,389.7 131.02,389.7 131.79,389.7 132.55,389.7 133.32,389.7 134.08,389.7 134.85,389.7 135.62,389.7 136.38,389.7 137.15,389.7 137.92,389.7 138.68,389.7 139.45,389.7 140.21,389.7 140.98,389.7 141.75,389.7 142.51,389.7 143.28,389.7 144.04,389.7 144.81,389.7 145.58,389.7 146.34,389.7 147.11,389.7 147.88,389.7 148.64,389.7 149.41,389.7 150.17,389.7 150.94,389.7 151.71,389.7 152.2,389.7 152.4,389.7 152.47,389.7 152.6,389.7 152.8,389.7 153,389.7 153.2,389.7 153.24,389.7 153.4,389.7 153.6,389.7 153.8,389.7 154,389.7 154,389.7 154.2,389.7 154.4,389.81 154.6,390.03 154.77,390.28 154.8,390.32 155,390.67 155.2,391.06 155.4,391.49 155.54,391.81 155.6,391.96 155.8,392.46 156,392.98 156.2,393.52 156.3,393.82 157.07,396.07 157.2,396.46 157.4,397.07 157.6,397.67 157.8,398.27 157.84,398.36 158,398.84 158.2,399.4 158.4,399.94 158.6,400.45 158.6,400.45 158.8,400.91 159,401.32 159.2,401.62 159.37,401.76 159.4,401.79 159.6,401.94 159.8,402.09 160,402.23 160.13,402.31 160.2,402.35 160.4,402.48 160.6,402.6 160.8,402.71 160.9,402.76 161,402.82 161.2,402.92 161.67,403.15 162.43,403.49 163.2,403.8 163.96,404.08 164.73,404.33 165.5,404.56 166.26,404.78 167.03,404.98 167.8,405.16 168.56,405.34 169.33,405.5 170.09,405.66 170.86,405.8 171.63,405.94 172.39,406.07 173.16,406.19 173.92,406.31 174.69,406.42 175.46,406.52 176.22,406.62 176.99,406.71 177.76,406.8 178.52,406.89 179.29,406.97 180.05,407.05 180.82,407.12 181.59,407.19 182.35,407.26 183.12,407.32 183.88,407.38 184.65,407.44 185.42,407.5 186.18,407.55 186.95,407.6 187.72,407.65 188.48,407.69 189.25,407.74 190.01,407.78 190.78,407.82 191.55,407.85 192.31,407.89 193.08,407.92 193.85,407.96 194.61,407.99 195.38,408.01 196.14,408.04 196.91,408.07 197.68,408.09 198.44,408.11 199.21,408.13 199.97,408.15 200.74,408.17 201.51,408.19 202.27,408.21 203.04,408.22 203.81,408.23 204.57,408.25 205.34,408.26 206.1,408.27 206.87,408.27 207.64,408.28 208.4,408.29 209.17,408.29 209.93,408.3 210.7,408.3 211.47,408.3 212.23,408.3 213,408.3 213.77,408.3 214.53,408.29 215.3,408.29 216.06,408.28 216.83,408.28 217.6,408.27 218.36,408.26 219.13,408.25 219.89,408.24 220.66,408.23 221.43,408.21 222.19,408.2 222.96,408.18 223.73,408.16 224.49,408.14 225.26,408.12 226.02,408.1 226.79,408.08 227.56,408.05 228.32,408.03 229.09,408 229.85,407.97 230.62,407.94 231.39,407.9 232.15,407.87 232.92,407.83 233.69,407.79 234.45,407.75 235.22,407.71 235.98,407.66 236.75,407.62 237.52,407.57 238.28,407.52 239.05,407.46 239.82,407.4 240.58,407.34 241.35,407.28 242.11,407.22 242.88,407.15 243.65,407.08 244.41,407 245.18,406.92 245.94,406.84 246.71,406.75 247.48,406.66 248.24,406.56 249.01,406.46 249.78,406.35 250.54,406.24 251.31,406.12 252.07,405.99 252.84,405.86 253.61,405.71 254.37,405.56 255.14,405.4 255.9,405.23 256.67,405.05 257.44,404.86 258.2,404.65 258.97,404.42 259.74,404.18 260.5,403.91 261.27,403.62 262.03,403.29 262.8,402.92 263,402.82 263.2,402.71 263.4,402.6 263.57,402.5 263.6,402.48 263.8,402.35 264,402.23 264.2,402.09 264.33,401.99 264.4,401.94 264.6,401.79 264.8,401.62 265,401.32 265.1,401.12 265.2,400.91 265.4,400.45 265.6,399.94 265.8,399.4 265.86,399.22 266,398.84 266.2,398.27 266.4,397.67 266.6,397.07 266.63,396.97 266.8,396.46 267.4,394.68 267.8,393.52 268,392.98 268.16,392.55 268.2,392.46 268.4,391.96 268.6,391.49 268.8,391.06 268.93,390.8 269,390.67 269.2,390.32 269.4,390.03 269.6,389.81 269.7,389.75 269.8,389.7 270,389.7 270.2,389.7 270.4,389.7 270.46,389.7 270.6,389.7 270.8,389.7 271,389.7 271.2,389.7 271.23,389.7 271.4,389.7 271.6,389.7 271.8,389.7 271.99,389.7 272.76,389.7 273.53,389.7 274.29,389.7 275.06,389.7 275.82,389.7 276.59,389.7 277.36,389.7 278.12,389.7 278.89,389.7 279.66,389.7 280.42,389.7 281.19,389.7 281.95,389.7 282.72,389.7 283.49,389.7 284.25,389.7 285.02,389.7 285.78,389.7 286.55,389.7 287.32,389.7 288.08,389.7 288.85,389.7 289.62,389.7 290.38,389.7 291.15,389.7 291.91,389.7 292.68,389.7 293.45,389.7 294.21,389.7 294.98,389.7 295.75,389.7 296.51,389.7 297.28,389.7 298.04,389.7 298.81,389.7 299.58,389.7 300.34,389.7 301.11,389.7 301.87,389.7 302.64,389.7 303.41,389.7 304.17,389.7 304.94,389.7 305.71,389.7 306.47,389.7 307.24,389.7 308,389.7 308.77,389.7 309.54,389.7 310.3,389.7 311.07,389.7 311.83,389.7 312.6,389.7 313.37,389.7 314.13,389.7 314.9,389.7 315.67,389.7 316.43,389.7 317.2,389.7 317.96,389.7 318.73,389.7 319.5,389.7 320.26,389.7 321.03,389.7 321.79,389.7 322.56,389.7 323.33,389.7 324.09,389.7 324.86,389.7 325.63,389.7 326.39,389.7 327.16,389.7 327.92,389.7 328.69,389.7 329.46,389.7 330.22,389.7 330.99,389.7 331.75,389.7 332.52,389.7 333.29,389.7 334.05,389.7 334.82,389.7 335.59,389.7 336.35,389.7 337.12,389.7 337.88,389.7 338.65,389.7 339.42,389.7 340.18,389.7 340.95,389.7 341.72,389.7 342.48,389.7 343.25,389.7 344.01,389.7 344.78,389.7 345.55,389.7 346.31,389.7 347.08,389.7 347.84,389.7 348.61,389.7 349.38,389.7 350.14,389.7 350.91,389.7 351.68,389.7 352.44,389.7 353.21,389.7 353.97,389.7 354.74,389.7 355.51,389.7 356.27,389.7 357.04,389.7 357.8,389.7 358.57,389.7 359.34,389.7 360.1,389.7 360.87,389.7 361.64,389.7 362.4,389.7 363.17,389.7 363.93,389.7 364.7,389.7" fill="none" stroke="#000" stroke-width="2"/>
<path d="M64.27 382.6V391M73.92 390.8V399.2M83.58 397.7V406.1M93.23 386.6V395M102.89 385.3V393.7M112.54 380.3V388.7M122.2 392.7V401.1M131.85 384.1V392.5M141.51 383.85V392.25M151.16 374.4V382.8M160.82 398V406.4M170.47 401.7V410.1M180.13 400.7V409.1M189.78 403.2V411.6M199.44 400.5V408.9M209.09 397.3V405.7M218.75 406.4V414.8M228.4 412.7V421.1M238.06 406.8V415.2M247.71 403.85V412.25M257.37 401.7V410.1M267.02 390.6V399M276.68 382.8V391.2M286.33 383.2V391.6M295.99 390.6V399M305.64 380.7V389.1M315.3 389.1V397.5M324.95 376.9V385.3M334.61 384.7V393.1M344.26 394.2V402.6M353.92 385.3V393.7M363.57 394.8V403.2" stroke="#ff0000" stroke-width="1.6" stroke-opacity="0.7" fill="none"/>
<g fill="#ff0000"><circle cx="64.27" cy="386.8" r="3.15"/><circle cx="73.92" cy="395" r="3.15"/><circle cx="83.58" cy="401.9" r="3.15"/><circle cx="93.23" cy="390.8" r="3.15"/><circle cx="102.89" cy="389.5" r="3.15"/><circle cx="112.54" cy="384.5" r="3.15"/><circle cx="122.2" cy="396.9" r="3.15"/><circle cx="131.85" cy="388.3" r="3.15"/><circle cx="141.51" cy="388.05" r="3.15"/><circle cx="151.16" cy="378.6" r="3.15"/><circle cx="160.82" cy="402.2" r="3.15"/><circle cx="170.47" cy="405.9" r="3.15"/><circle cx="180.13" cy="404.9" r="3.15"/><circle cx="189.78" cy="407.4" r="3.15"/><circle cx="199.44" cy="404.7" r="3.15"/><circle cx="209.09" cy="401.5" r="3.15"/><circle cx="218.75" cy="410.6" r="3.15"/><circle cx="228.4" cy="416.9" r="3.15"/><circle cx="238.06" cy="411" r="3.15"/><circle cx="247.71" cy="408.05" r="3.15"/><circle cx="257.37" cy="405.9" r="3.15"/><circle cx="267.02" cy="394.8" r="3.15"/><circle cx="276.68" cy="387" r="3.15"/><circle cx="286.33" cy="387.4" r="3.15"/><circle cx="295.99" cy="394.8" r="3.15"/><circle cx="305.64" cy="384.9" r="3.15"/><circle cx="315.3" cy="393.3" r="3.15"/><circle cx="324.95" cy="381.1" r="3.15"/><circle cx="334.61" cy="388.9" r="3.15"/><circle cx="344.26" cy="398.4" r="3.15"/><circle cx="353.92" cy="389.5" r="3.15"/><circle cx="363.57" cy="399" r="3.15"/></g>
</g>
<rect x="59" y="339.6" width="305.7" height="100.2" fill="none" stroke="#808080" stroke-width="1.5"/>
<path d="M56.5 418.33H59M56.5 389.7H59M56.5 361.07H59M57.5 432.64H59M57.5 404.01H59M57.5 375.39H59M57.5 346.76H59M72.9 439.8V442.3M86.79 439.8V441.3M100.69 439.8V441.3M114.58 439.8V441.3M128.48 439.8V441.3M142.37 439.8V442.3M156.27 439.8V441.3M170.16 439.8V441.3M184.06 439.8V441.3M197.95 439.8V441.3M211.85 439.8V442.3M225.75 439.8V441.3M239.64 439.8V441.3M253.54 439.8V441.3M267.43 439.8V441.3M281.33 439.8V442.3M295.22 439.8V441.3M309.12 439.8V441.3M323.01 439.8V441.3M336.91 439.8V441.3M350.8 439.8V442.3" stroke="#808080" stroke-width="0.9" fill="none"/>
<text x="54.5" y="364.97" font-size="11.6" text-anchor="end" textLength="30.8" lengthAdjust="spacingAndGlyphs" fill="#000" class="k">1.002</text>
<text x="54.5" y="393.6" font-size="11.6" text-anchor="end" textLength="30.8" lengthAdjust="spacingAndGlyphs" fill="#000" class="k">1.000</text>
<text x="54.5" y="422.23" font-size="11.6" text-anchor="end" textLength="30.8" lengthAdjust="spacingAndGlyphs" fill="#000" class="k">0.998</text>
<text transform="translate(10.1 389.5) rotate(-90)" font-size="13.6" text-anchor="middle" textLength="82" lengthAdjust="spacingAndGlyphs" fill="#000">Relative flux</text>
<text x="66" y="358.2" font-size="14.6" fill="#ff0000"><tspan font-style="italic">z</tspan></text>
<text x="73.2" y="360.8" font-size="10.4" font-style="italic" fill="#ff0000">s</text>
<text x="84.2" y="358.2" font-size="14.6" textLength="34.5" lengthAdjust="spacingAndGlyphs" fill="#ff0000">band</text>
<text x="72.9" y="452.4" font-size="11.2" text-anchor="middle" textLength="32.6" lengthAdjust="spacingAndGlyphs" fill="#000" class="k">−0.10</text>
<text x="142.37" y="452.4" font-size="11.2" text-anchor="middle" textLength="32.6" lengthAdjust="spacingAndGlyphs" fill="#000" class="k">−0.05</text>
<text x="211.85" y="452.4" font-size="11.2" text-anchor="middle" textLength="24" lengthAdjust="spacingAndGlyphs" fill="#000" class="k">0.00</text>
<text x="281.33" y="452.4" font-size="11.2" text-anchor="middle" textLength="24" lengthAdjust="spacingAndGlyphs" fill="#000" class="k">0.05</text>
<text x="350.8" y="452.4" font-size="11.2" text-anchor="middle" textLength="24" lengthAdjust="spacingAndGlyphs" fill="#000" class="k">0.10</text>
<text x="211.85" y="477.1" font-size="16.2" text-anchor="middle" textLength="241.5" lengthAdjust="spacingAndGlyphs" fill="#000">Time from transit center (days)</text>
<text x="211.85" y="11.7" font-size="16.4" text-anchor="middle" textLength="80.5" lengthAdjust="spacingAndGlyphs" fill="#000">TOI-1749c</text>
<g clip-path="url(#cR0)">
<polyline points="454.1,73.1 454.87,73.1 455.63,73.1 456.4,73.1 457.16,73.1 457.93,73.1 458.69,73.1 459.46,73.1 460.23,73.1 460.99,73.1 461.76,73.1 462.52,73.1 463.29,73.1 464.05,73.1 464.82,73.1 465.58,73.1 466.35,73.1 467.12,73.1 467.88,73.1 468.65,73.1 469.41,73.1 470.18,73.1 470.94,73.1 471.71,73.1 472.48,73.1 473.24,73.1 474.01,73.1 474.77,73.1 475.54,73.1 476.3,73.1 477.07,73.1 477.84,73.1 478.6,73.1 479.37,73.1 480.13,73.1 480.9,73.1 481.66,73.1 482.43,73.1 483.2,73.1 483.96,73.1 484.73,73.1 485.49,73.1 486.26,73.1 487.02,73.1 487.79,73.1 488.55,73.1 489.32,73.1 490.09,73.1 490.85,73.1 491.62,73.1 492.38,73.1 493.15,73.1 493.91,73.1 494.68,73.1 495.45,73.1 496.21,73.1 496.98,73.1 497.74,73.1 498.51,73.1 499.27,73.1 500.04,73.1 500.81,73.1 501.57,73.1 502.34,73.1 503.1,73.1 503.87,73.1 504.63,73.1 505.4,73.1 506.17,73.1 506.93,73.1 507.7,73.1 508.46,73.1 509.23,73.1 509.99,73.1 510.76,73.1 511.52,73.1 512.29,73.1 513.06,73.1 513.82,73.1 514.59,73.1 515.35,73.1 516.12,73.1 516.88,73.1 517.65,73.1 518.42,73.1 519.18,73.1 519.95,73.1 520.71,73.1 521.48,73.1 522.24,73.1 523.01,73.1 523.78,73.1 524.54,73.1 525.31,73.1 526.07,73.1 526.84,73.1 527.6,73.1 528.37,73.1 529.14,73.1 529.9,73.1 530.67,73.1 531.43,73.1 532.2,73.1 532.96,73.1 533.73,73.1 534.49,73.1 535.26,73.1 536.03,73.1 536.79,73.1 537.56,73.1 538.32,73.1 539.09,73.1 539.85,73.1 540.62,73.1 541.39,73.1 542.15,73.1 542.92,73.1 543.68,73.1 544.45,73.1 545.21,73.1 545.98,73.1 546.75,73.1 547.51,73.1 548.28,73.1 549.04,73.1 549.81,73.1 550.5,73.1 550.57,73.1 550.7,73.1 550.9,73.1 551.1,73.1 551.3,73.1 551.34,73.1 551.5,73.1 551.7,73.1 551.9,73.1 552.1,73.1 552.11,73.1 552.3,73.1 552.5,73.1 552.7,73.15 552.87,73.21 552.9,73.23 553.1,73.35 553.3,73.48 553.5,73.66 553.64,73.78 553.7,73.85 553.9,74.06 554.1,74.29 554.3,74.54 554.4,74.68 554.5,74.8 555.17,75.8 555.93,77.1 556.7,78.56 557.46,80.11 558.23,81.73 559,83.35 559.5,84.41 559.7,84.82 559.76,84.95 559.9,85.22 560.1,85.61 560.3,86.01 560.5,86.37 560.53,86.43 560.7,86.74 560.9,87.09 561.1,87.41 561.29,87.7 561.3,87.71 561.5,87.97 561.7,88.18 561.9,88.38 562.06,88.53 562.1,88.57 562.3,88.75 562.5,88.93 562.7,89.09 562.82,89.2 562.9,89.26 563.1,89.42 563.3,89.57 563.5,89.72 563.59,89.79 564.36,90.33 565.12,90.82 565.89,91.28 566.65,91.7 567.42,92.1 568.18,92.47 568.95,92.82 569.72,93.15 570.48,93.47 571.25,93.77 572.01,94.05 572.78,94.32 573.54,94.58 574.31,94.82 575.07,95.06 575.84,95.28 576.61,95.49 577.37,95.7 578.14,95.89 578.9,96.08 579.67,96.26 580.43,96.43 581.2,96.59 581.97,96.75 582.73,96.9 583.5,97.04 584.26,97.18 585.03,97.31 585.79,97.43 586.56,97.55 587.33,97.66 588.09,97.77 588.86,97.87 589.62,97.97 590.39,98.06 591.15,98.15 591.92,98.23 592.69,98.31 593.45,98.39 594.22,98.45 594.98,98.52 595.75,98.58 596.51,98.64 597.28,98.69 598.04,98.74 598.81,98.78 599.58,98.82 600.34,98.85 601.11,98.89 601.87,98.91 602.64,98.94 603.4,98.96 604.17,98.97 604.94,98.99 605.7,98.99 606.47,99 607.23,99 608,99 608.76,98.99 609.53,98.98 610.3,98.96 611.06,98.95 611.83,98.92 612.59,98.9 613.36,98.87 614.12,98.83 614.89,98.8 615.66,98.75 616.42,98.71 617.19,98.66 617.95,98.6 618.72,98.54 619.48,98.48 620.25,98.41 621.01,98.34 621.78,98.27 622.55,98.18 623.31,98.1 624.08,98.01 624.84,97.91 625.61,97.81 626.37,97.71 627.14,97.59 627.91,97.48 628.67,97.36 629.44,97.23 630.2,97.09 630.97,96.95 631.73,96.81 632.5,96.65 633.27,96.49 634.03,96.32 634.8,96.15 635.56,95.97 636.33,95.77 637.09,95.57 637.86,95.36 638.63,95.14 639.39,94.91 640.16,94.67 640.92,94.42 641.69,94.16 642.45,93.88 643.22,93.59 643.98,93.28 644.75,92.95 645.52,92.61 646.28,92.25 647.05,91.86 647.81,91.45 648.58,91 649.34,90.52 650.11,90.01 650.5,89.72 650.7,89.57 650.88,89.44 650.9,89.42 651.1,89.26 651.3,89.09 651.5,88.93 651.64,88.8 651.7,88.75 651.9,88.57 652.1,88.38 652.3,88.18 652.41,88.07 652.5,87.97 652.7,87.71 652.9,87.41 653.1,87.09 653.17,86.96 653.3,86.74 653.5,86.37 653.7,86.01 653.9,85.61 653.94,85.54 654.1,85.22 654.3,84.82 654.5,84.41 654.7,83.98 655.47,82.37 656.24,80.74 657,79.16 657.77,77.66 658.53,76.29 659.3,75.09 659.5,74.8 659.7,74.54 659.9,74.29 660.06,74.1 660.1,74.06 660.3,73.85 660.5,73.66 660.7,73.48 660.83,73.39 660.9,73.35 661.1,73.23 661.3,73.15 661.5,73.1 661.59,73.1 661.7,73.1 661.9,73.1 662.1,73.1 662.3,73.1 662.36,73.1 662.5,73.1 662.7,73.1 662.9,73.1 663.1,73.1 663.13,73.1 663.3,73.1 663.5,73.1 663.89,73.1 664.66,73.1 665.42,73.1 666.19,73.1 666.95,73.1 667.72,73.1 668.49,73.1 669.25,73.1 670.02,73.1 670.78,73.1 671.55,73.1 672.31,73.1 673.08,73.1 673.85,73.1 674.61,73.1 675.38,73.1 676.14,73.1 676.91,73.1 677.67,73.1 678.44,73.1 679.21,73.1 679.97,73.1 680.74,73.1 681.5,73.1 682.27,73.1 683.03,73.1 683.8,73.1 684.56,73.1 685.33,73.1 686.1,73.1 686.86,73.1 687.63,73.1 688.39,73.1 689.16,73.1 689.92,73.1 690.69,73.1 691.46,73.1 692.22,73.1 692.99,73.1 693.75,73.1 694.52,73.1 695.28,73.1 696.05,73.1 696.82,73.1 697.58,73.1 698.35,73.1 699.11,73.1 699.88,73.1 700.64,73.1 701.41,73.1 702.18,73.1 702.94,73.1 703.71,73.1 704.47,73.1 705.24,73.1 706,73.1 706.77,73.1 707.53,73.1 708.3,73.1 709.07,73.1 709.83,73.1 710.6,73.1 711.36,73.1 712.13,73.1 712.89,73.1 713.66,73.1 714.43,73.1 715.19,73.1 715.96,73.1 716.72,73.1 717.49,73.1 718.25,73.1 719.02,73.1 719.79,73.1 720.55,73.1 721.32,73.1 722.08,73.1 722.85,73.1 723.61,73.1 724.38,73.1 725.15,73.1 725.91,73.1 726.68,73.1 727.44,73.1 728.21,73.1 728.97,73.1 729.74,73.1 730.5,73.1 731.27,73.1 732.04,73.1 732.8,73.1 733.57,73.1 734.33,73.1 735.1,73.1 735.86,73.1 736.63,73.1 737.4,73.1 738.16,73.1 738.93,73.1 739.69,73.1 740.46,73.1 741.22,73.1 741.99,73.1 742.76,73.1 743.52,73.1 744.29,73.1 745.05,73.1 745.82,73.1 746.58,73.1 747.35,73.1 748.12,73.1 748.88,73.1 749.65,73.1 750.41,73.1 751.18,73.1 751.94,73.1 752.71,73.1 753.47,73.1 754.24,73.1 755.01,73.1 755.77,73.1 756.54,73.1 757.3,73.1 758.07,73.1 758.83,73.1 759.6,73.1" fill="none" stroke="#000" stroke-width="2"/>
<path d="M459.35 63.05V81.05M469 55.6V74.6M478.66 69.6V86.8M488.31 51.6V69M497.97 60.7V77.9M507.62 51.4V68.2M517.28 61.4V78.6M526.94 83.4V100.2M536.59 64.9V82.1M546.25 70.3V86.5M555.9 76.4V93.8M565.56 98V114.4M575.21 102.1V117.7M584.87 91.4V106.2M594.52 92V106.8M604.17 92.2V106.6M613.83 88.2V101.8M623.49 79.8V94.6M633.14 85.5V99.5M642.8 93.2V106.4M652.45 72.2V86.2M662.11 76.4V90.4M671.76 69.9V84.3M681.41 62V77.4M691.07 64.7V80.3M700.73 59.7V75.5M710.38 62.5V78.7M720.04 75.7V91.5M729.69 67.1V85.5M739.35 67.4V88M749 61.6V81.2M758.65 66.2V87.2" stroke="#0000ff" stroke-width="1.6" stroke-opacity="0.7" fill="none"/>
<g fill="#0000ff"><circle cx="459.35" cy="72.05" r="3.15"/><circle cx="469" cy="65.1" r="3.15"/><circle cx="478.66" cy="78.2" r="3.15"/><circle cx="488.31" cy="60.3" r="3.15"/><circle cx="497.97" cy="69.3" r="3.15"/><circle cx="507.62" cy="59.8" r="3.15"/><circle cx="517.28" cy="70" r="3.15"/><circle cx="526.94" cy="91.8" r="3.15"/><circle cx="536.59" cy="73.5" r="3.15"/><circle cx="546.25" cy="78.4" r="3.15"/><circle cx="555.9" cy="85.1" r="3.15"/><circle cx="565.56" cy="106.2" r="3.15"/><circle cx="575.21" cy="109.9" r="3.15"/><circle cx="584.87" cy="98.8" r="3.15"/><circle cx="594.52" cy="99.4" r="3.15"/><circle cx="604.17" cy="99.4" r="3.15"/><circle cx="613.83" cy="95" r="3.15"/><circle cx="623.49" cy="87.2" r="3.15"/><circle cx="633.14" cy="92.5" r="3.15"/><circle cx="642.8" cy="99.8" r="3.15"/><circle cx="652.45" cy="79.2" r="3.15"/><circle cx="662.11" cy="83.4" r="3.15"/><circle cx="671.76" cy="77.1" r="3.15"/><circle cx="681.41" cy="69.7" r="3.15"/><circle cx="691.07" cy="72.5" r="3.15"/><circle cx="700.73" cy="67.6" r="3.15"/><circle cx="710.38" cy="70.6" r="3.15"/><circle cx="720.04" cy="83.6" r="3.15"/><circle cx="729.69" cy="76.3" r="3.15"/><circle cx="739.35" cy="77.7" r="3.15"/><circle cx="749" cy="71.4" r="3.15"/><circle cx="758.65" cy="76.7" r="3.15"/></g>
</g>
<rect x="454.1" y="22.7" width="305.5" height="100.8" fill="none" stroke="#808080" stroke-width="1.5"/>
<path d="M451.6 101.9H454.1M451.6 73.1H454.1M451.6 44.3H454.1M452.6 116.3H454.1M452.6 87.5H454.1M452.6 58.7H454.1M452.6 29.9H454.1M468 123.5V126M481.89 123.5V125M495.79 123.5V125M509.68 123.5V125M523.58 123.5V125M537.47 123.5V126M551.37 123.5V125M565.26 123.5V125M579.16 123.5V125M593.05 123.5V125M606.95 123.5V126M620.85 123.5V125M634.74 123.5V125M648.64 123.5V125M662.53 123.5V125M676.43 123.5V126M690.32 123.5V125M704.22 123.5V125M718.11 123.5V125M732.01 123.5V125M745.9 123.5V126" stroke="#808080" stroke-width="0.9" fill="none"/>
<text x="449.6" y="48.2" font-size="11.6" text-anchor="end" textLength="30.8" lengthAdjust="spacingAndGlyphs" fill="#000" class="k">1.002</text>
<text x="449.6" y="77" font-size="11.6" text-anchor="end" textLength="30.8" lengthAdjust="spacingAndGlyphs" fill="#000" class="k">1.000</text>
<text x="449.6" y="105.8" font-size="11.6" text-anchor="end" textLength="30.8" lengthAdjust="spacingAndGlyphs" fill="#000" class="k">0.998</text>
<text transform="translate(405.2 72.9) rotate(-90)" font-size="13.6" text-anchor="middle" textLength="82" lengthAdjust="spacingAndGlyphs" fill="#000">Relative flux</text>
<text x="461.1" y="41.3" font-size="14.6" textLength="50" lengthAdjust="spacingAndGlyphs" fill="#0000ff">g band</text>
<g clip-path="url(#cR1)">
<polyline points="454.1,178.7 454.87,178.7 455.63,178.7 456.4,178.7 457.16,178.7 457.93,178.7 458.69,178.7 459.46,178.7 460.23,178.7 460.99,178.7 461.76,178.7 462.52,178.7 463.29,178.7 464.05,178.7 464.82,178.7 465.58,178.7 466.35,178.7 467.12,178.7 467.88,178.7 468.65,178.7 469.41,178.7 470.18,178.7 470.94,178.7 471.71,178.7 472.48,178.7 473.24,178.7 474.01,178.7 474.77,178.7 475.54,178.7 476.3,178.7 477.07,178.7 477.84,178.7 478.6,178.7 479.37,178.7 480.13,178.7 480.9,178.7 481.66,178.7 482.43,178.7 483.2,178.7 483.96,178.7 484.73,178.7 485.49,178.7 486.26,178.7 487.02,178.7 487.79,178.7 488.55,178.7 489.32,178.7 490.09,178.7 490.85,178.7 491.62,178.7 492.38,178.7 493.15,178.7 493.91,178.7 494.68,178.7 495.45,178.7 496.21,178.7 496.98,178.7 497.74,178.7 498.51,178.7 499.27,178.7 500.04,178.7 500.81,178.7 501.57,178.7 502.34,178.7 503.1,178.7 503.87,178.7 504.63,178.7 505.4,178.7 506.17,178.7 506.93,178.7 507.7,178.7 508.46,178.7 509.23,178.7 509.99,178.7 510.76,178.7 511.52,178.7 512.29,178.7 513.06,178.7 513.82,178.7 514.59,178.7 515.35,178.7 516.12,178.7 516.88,178.7 517.65,178.7 518.42,178.7 519.18,178.7 519.95,178.7 520.71,178.7 521.48,178.7 522.24,178.7 523.01,178.7 523.78,178.7 524.54,178.7 525.31,178.7 526.07,178.7 526.84,178.7 527.6,178.7 528.37,178.7 529.14,178.7 529.9,178.7 530.67,178.7 531.43,178.7 532.2,178.7 532.96,178.7 533.73,178.7 534.49,178.7 535.26,178.7 536.03,178.7 536.79,178.7 537.56,178.7 538.32,178.7 539.09,178.7 539.85,178.7 540.62,178.7 541.39,178.7 542.15,178.7 542.92,178.7 543.68,178.7 544.45,178.7 545.21,178.7 545.98,178.7 546.75,178.7 547.51,178.7 548.28,178.7 549.04,178.7 549.81,178.7 550.5,178.7 550.57,178.7 550.7,178.7 550.9,178.7 551.1,178.7 551.3,178.7 551.34,178.7 551.5,178.7 551.7,178.7 551.9,178.7 552.1,178.7 552.11,178.7 552.3,178.7 552.5,178.7 552.7,178.76 552.87,178.83 552.9,178.86 553.1,179 553.3,179.16 553.5,179.37 553.64,179.51 553.7,179.59 553.9,179.83 554.1,180.08 554.3,180.37 554.4,180.53 554.5,180.66 555.17,181.76 555.93,183.19 556.7,184.75 557.46,186.38 558.23,188.07 559,189.74 559.5,190.81 559.7,191.22 559.76,191.36 559.9,191.62 560.1,192.01 560.3,192.4 560.5,192.76 560.53,192.82 560.7,193.12 560.9,193.46 561.1,193.76 561.29,194.03 561.3,194.04 561.5,194.27 561.7,194.44 561.9,194.61 562.06,194.73 562.1,194.76 562.3,194.91 562.5,195.05 562.7,195.19 562.82,195.27 562.9,195.32 563.1,195.45 563.3,195.58 563.5,195.7 563.59,195.75 564.36,196.19 565.12,196.58 565.89,196.95 566.65,197.28 567.42,197.6 568.18,197.9 568.95,198.17 569.72,198.44 570.48,198.68 571.25,198.92 572.01,199.14 572.78,199.35 573.54,199.55 574.31,199.74 575.07,199.92 575.84,200.09 576.61,200.25 577.37,200.41 578.14,200.56 578.9,200.7 579.67,200.84 580.43,200.97 581.2,201.09 581.97,201.21 582.73,201.33 583.5,201.43 584.26,201.54 585.03,201.64 585.79,201.73 586.56,201.82 587.33,201.9 588.09,201.99 588.86,202.06 589.62,202.14 590.39,202.2 591.15,202.27 591.92,202.33 592.69,202.39 593.45,202.44 594.22,202.5 594.98,202.54 595.75,202.59 596.51,202.63 597.28,202.67 598.04,202.7 598.81,202.74 599.58,202.77 600.34,202.79 601.11,202.82 601.87,202.84 602.64,202.85 603.4,202.87 604.17,202.88 604.94,202.89 605.7,202.9 606.47,202.9 607.23,202.9 608,202.9 608.76,202.89 609.53,202.88 610.3,202.87 611.06,202.86 611.83,202.84 612.59,202.82 613.36,202.8 614.12,202.78 614.89,202.75 615.66,202.72 616.42,202.68 617.19,202.65 617.95,202.61 618.72,202.56 619.48,202.52 620.25,202.47 621.01,202.41 621.78,202.36 622.55,202.29 623.31,202.23 624.08,202.16 624.84,202.09 625.61,202.02 626.37,201.94 627.14,201.85 627.91,201.77 628.67,201.67 629.44,201.58 630.2,201.48 630.97,201.37 631.73,201.26 632.5,201.14 633.27,201.02 634.03,200.89 634.8,200.76 635.56,200.62 636.33,200.47 637.09,200.32 637.86,200.16 638.63,199.99 639.39,199.81 640.16,199.62 640.92,199.43 641.69,199.22 642.45,199 643.22,198.78 643.98,198.53 644.75,198.28 645.52,198.01 646.28,197.72 647.05,197.41 647.81,197.08 648.58,196.73 649.34,196.34 650.11,195.93 650.5,195.7 650.7,195.58 650.88,195.47 650.9,195.45 651.1,195.32 651.3,195.19 651.5,195.05 651.64,194.95 651.7,194.91 651.9,194.76 652.1,194.61 652.3,194.44 652.41,194.35 652.5,194.27 652.7,194.04 652.9,193.76 653.1,193.46 653.17,193.33 653.3,193.12 653.5,192.76 653.7,192.4 653.9,192.01 653.94,191.94 654.1,191.62 654.3,191.22 654.5,190.81 654.7,190.38 655.47,188.73 656.24,187.04 657,185.38 657.77,183.79 658.53,182.3 659.3,180.98 659.5,180.66 659.7,180.37 659.9,180.08 660.06,179.87 660.1,179.83 660.3,179.59 660.5,179.37 660.7,179.16 660.83,179.05 660.9,179 661.1,178.86 661.3,178.76 661.5,178.7 661.59,178.7 661.7,178.7 661.9,178.7 662.1,178.7 662.3,178.7 662.36,178.7 662.5,178.7 662.7,178.7 662.9,178.7 663.1,178.7 663.13,178.7 663.3,178.7 663.5,178.7 663.89,178.7 664.66,178.7 665.42,178.7 666.19,178.7 666.95,178.7 667.72,178.7 668.49,178.7 669.25,178.7 670.02,178.7 670.78,178.7 671.55,178.7 672.31,178.7 673.08,178.7 673.85,178.7 674.61,178.7 675.38,178.7 676.14,178.7 676.91,178.7 677.67,178.7 678.44,178.7 679.21,178.7 679.97,178.7 680.74,178.7 681.5,178.7 682.27,178.7 683.03,178.7 683.8,178.7 684.56,178.7 685.33,178.7 686.1,178.7 686.86,178.7 687.63,178.7 688.39,178.7 689.16,178.7 689.92,178.7 690.69,178.7 691.46,178.7 692.22,178.7 692.99,178.7 693.75,178.7 694.52,178.7 695.28,178.7 696.05,178.7 696.82,178.7 697.58,178.7 698.35,178.7 699.11,178.7 699.88,178.7 700.64,178.7 701.41,178.7 702.18,178.7 702.94,178.7 703.71,178.7 704.47,178.7 705.24,178.7 706,178.7 706.77,178.7 707.53,178.7 708.3,178.7 709.07,178.7 709.83,178.7 710.6,178.7 711.36,178.7 712.13,178.7 712.89,178.7 713.66,178.7 714.43,178.7 715.19,178.7 715.96,178.7 716.72,178.7 717.49,178.7 718.25,178.7 719.02,178.7 719.79,178.7 720.55,178.7 721.32,178.7 722.08,178.7 722.85,178.7 723.61,178.7 724.38,178.7 725.15,178.7 725.91,178.7 726.68,178.7 727.44,178.7 728.21,178.7 728.97,178.7 729.74,178.7 730.5,178.7 731.27,178.7 732.04,178.7 732.8,178.7 733.57,178.7 734.33,178.7 735.1,178.7 735.86,178.7 736.63,178.7 737.4,178.7 738.16,178.7 738.93,178.7 739.69,178.7 740.46,178.7 741.22,178.7 741.99,178.7 742.76,178.7 743.52,178.7 744.29,178.7 745.05,178.7 745.82,178.7 746.58,178.7 747.35,178.7 748.12,178.7 748.88,178.7 749.65,178.7 750.41,178.7 751.18,178.7 751.94,178.7 752.71,178.7 753.47,178.7 754.24,178.7 755.01,178.7 755.77,178.7 756.54,178.7 757.3,178.7 758.07,178.7 758.83,178.7 759.6,178.7" fill="none" stroke="#000" stroke-width="2"/>
<path d="M459.35 170.4V182.4M469 173.8V185.8M478.66 173.6V185.6M488.31 178.6V190.6M497.97 166.2V178.2M507.62 165.6V177.6M517.28 177.4V189.4M526.94 181.6V193.6M536.59 171.9V183.9M546.25 177.8V189.8M555.9 171.5V183.5M565.56 190.8V202.8M575.21 196.7V208.7M584.87 195.05V207.05M594.52 196.3V208.3M604.17 202.6V214.6M613.83 195.9V207.9M623.49 193.6V205.6M633.14 188.9V200.9M642.8 188.9V200.9M652.45 185.6V197.6M662.11 168.7V180.7M671.76 166.6V178.6M681.41 173.2V185.2M691.07 181.4V193.4M700.73 175.9V187.9M710.38 172.9V184.9M720.04 172.5V184.5M729.69 173.2V185.2M739.35 162.5V176.5M749 176.2V190.2M758.65 180.4V194.4" stroke="#008000" stroke-width="1.6" stroke-opacity="0.7" fill="none"/>
<g fill="#008000"><circle cx="459.35" cy="176.4" r="3.15"/><circle cx="469" cy="179.8" r="3.15"/><circle cx="478.66" cy="179.6" r="3.15"/><circle cx="488.31" cy="184.6" r="3.15"/><circle cx="497.97" cy="172.2" r="3.15"/><circle cx="507.62" cy="171.6" r="3.15"/><circle cx="517.28" cy="183.4" r="3.15"/><circle cx="526.94" cy="187.6" r="3.15"/><circle cx="536.59" cy="177.9" r="3.15"/><circle cx="546.25" cy="183.8" r="3.15"/><circle cx="555.9" cy="177.5" r="3.15"/><circle cx="565.56" cy="196.8" r="3.15"/><circle cx="575.21" cy="202.7" r="3.15"/><circle cx="584.87" cy="201.05" r="3.15"/><circle cx="594.52" cy="202.3" r="3.15"/><circle cx="604.17" cy="208.6" r="3.15"/><circle cx="613.83" cy="201.9" r="3.15"/><circle cx="623.49" cy="199.6" r="3.15"/><circle cx="633.14" cy="194.9" r="3.15"/><circle cx="642.8" cy="194.9" r="3.15"/><circle cx="652.45" cy="191.6" r="3.15"/><circle cx="662.11" cy="174.7" r="3.15"/><circle cx="671.76" cy="172.6" r="3.15"/><circle cx="681.41" cy="179.2" r="3.15"/><circle cx="691.07" cy="187.4" r="3.15"/><circle cx="700.73" cy="181.9" r="3.15"/><circle cx="710.38" cy="178.9" r="3.15"/><circle cx="720.04" cy="178.5" r="3.15"/><circle cx="729.69" cy="179.2" r="3.15"/><circle cx="739.35" cy="169.5" r="3.15"/><circle cx="749" cy="183.2" r="3.15"/><circle cx="758.65" cy="187.4" r="3.15"/></g>
</g>
<rect x="454.1" y="128.6" width="305.5" height="100.2" fill="none" stroke="#808080" stroke-width="1.5"/>
<path d="M451.6 207.33H454.1M451.6 178.7H454.1M451.6 150.07H454.1M452.6 221.64H454.1M452.6 193.01H454.1M452.6 164.39H454.1M452.6 135.76H454.1M468 228.8V231.3M481.89 228.8V230.3M495.79 228.8V230.3M509.68 228.8V230.3M523.58 228.8V230.3M537.47 228.8V231.3M551.37 228.8V230.3M565.26 228.8V230.3M579.16 228.8V230.3M593.05 228.8V230.3M606.95 228.8V231.3M620.85 228.8V230.3M634.74 228.8V230.3M648.64 228.8V230.3M662.53 228.8V230.3M676.43 228.8V231.3M690.32 228.8V230.3M704.22 228.8V230.3M718.11 228.8V230.3M732.01 228.8V230.3M745.9 228.8V231.3" stroke="#808080" stroke-width="0.9" fill="none"/>
<text x="449.6" y="153.97" font-size="11.6" text-anchor="end" textLength="30.8" lengthAdjust="spacingAndGlyphs" fill="#000" class="k">1.002</text>
<text x="449.6" y="182.6" font-size="11.6" text-anchor="end" textLength="30.8" lengthAdjust="spacingAndGlyphs" fill="#000" class="k">1.000</text>
<text x="449.6" y="211.23" font-size="11.6" text-anchor="end" textLength="30.8" lengthAdjust="spacingAndGlyphs" fill="#000" class="k">0.998</text>
<text transform="translate(405.2 178.5) rotate(-90)" font-size="13.6" text-anchor="middle" textLength="82" lengthAdjust="spacingAndGlyphs" fill="#000">Relative flux</text>
<text x="461.1" y="147.2" font-size="14.6" textLength="46.8" lengthAdjust="spacingAndGlyphs" fill="#008000">r band</text>
<g clip-path="url(#cR2)">
<polyline points="454.1,284.2 454.87,284.2 455.63,284.2 456.4,284.2 457.16,284.2 457.93,284.2 458.69,284.2 459.46,284.2 460.23,284.2 460.99,284.2 461.76,284.2 462.52,284.2 463.29,284.2 464.05,284.2 464.82,284.2 465.58,284.2 466.35,284.2 467.12,284.2 467.88,284.2 468.65,284.2 469.41,284.2 470.18,284.2 470.94,284.2 471.71,284.2 472.48,284.2 473.24,284.2 474.01,284.2 474.77,284.2 475.54,284.2 476.3,284.2 477.07,284.2 477.84,284.2 478.6,284.2 479.37,284.2 480.13,284.2 480.9,284.2 481.66,284.2 482.43,284.2 483.2,284.2 483.96,284.2 484.73,284.2 485.49,284.2 486.26,284.2 487.02,284.2 487.79,284.2 488.55,284.2 489.32,284.2 490.09,284.2 490.85,284.2 491.62,284.2 492.38,284.2 493.15,284.2 493.91,284.2 494.68,284.2 495.45,284.2 496.21,284.2 496.98,284.2 497.74,284.2 498.51,284.2 499.27,284.2 500.04,284.2 500.81,284.2 501.57,284.2 502.34,284.2 503.1,284.2 503.87,284.2 504.63,284.2 505.4,284.2 506.17,284.2 506.93,284.2 507.7,284.2 508.46,284.2 509.23,284.2 509.99,284.2 510.76,284.2 511.52,284.2 512.29,284.2 513.06,284.2 513.82,284.2 514.59,284.2 515.35,284.2 516.12,284.2 516.88,284.2 517.65,284.2 518.42,284.2 519.18,284.2 519.95,284.2 520.71,284.2 521.48,284.2 522.24,284.2 523.01,284.2 523.78,284.2 524.54,284.2 525.31,284.2 526.07,284.2 526.84,284.2 527.6,284.2 528.37,284.2 529.14,284.2 529.9,284.2 530.67,284.2 531.43,284.2 532.2,284.2 532.96,284.2 533.73,284.2 534.49,284.2 535.26,284.2 536.03,284.2 536.79,284.2 537.56,284.2 538.32,284.2 539.09,284.2 539.85,284.2 540.62,284.2 541.39,284.2 542.15,284.2 542.92,284.2 543.68,284.2 544.45,284.2 545.21,284.2 545.98,284.2 546.75,284.2 547.51,284.2 548.28,284.2 549.04,284.2 549.81,284.2 550.5,284.2 550.57,284.2 550.7,284.2 550.9,284.2 551.1,284.2 551.3,284.2 551.34,284.2 551.5,284.2 551.7,284.2 551.9,284.2 552.1,284.2 552.11,284.2 552.3,284.2 552.5,284.2 552.7,284.28 552.87,284.38 552.9,284.42 553.1,284.6 553.3,284.82 553.5,285.1 553.64,285.28 553.7,285.39 553.9,285.7 554.1,286.03 554.3,286.41 554.4,286.61 554.5,286.79 555.17,288.21 555.93,290.03 556.7,292.02 557.46,294.08 558.23,296.2 559,298.26 559.5,299.59 559.7,300.1 559.76,300.26 559.9,300.58 560.1,301.06 560.3,301.53 560.5,301.97 560.53,302.04 560.7,302.4 560.9,302.8 561.1,303.16 561.29,303.47 561.3,303.48 561.5,303.75 561.7,303.93 561.9,304.1 562.06,304.24 562.1,304.27 562.3,304.43 562.5,304.58 562.7,304.72 562.82,304.81 562.9,304.86 563.1,305 563.3,305.13 563.5,305.26 563.59,305.32 564.36,305.77 565.12,306.19 565.89,306.57 566.65,306.92 567.42,307.25 568.18,307.55 568.95,307.84 569.72,308.11 570.48,308.37 571.25,308.61 572.01,308.83 572.78,309.05 573.54,309.25 574.31,309.44 575.07,309.63 575.84,309.8 576.61,309.97 577.37,310.13 578.14,310.28 578.9,310.42 579.67,310.56 580.43,310.69 581.2,310.81 581.97,310.93 582.73,311.05 583.5,311.15 584.26,311.26 585.03,311.36 585.79,311.45 586.56,311.54 587.33,311.62 588.09,311.7 588.86,311.78 589.62,311.85 590.39,311.92 591.15,311.98 591.92,312.04 592.69,312.1 593.45,312.15 594.22,312.2 594.98,312.25 595.75,312.3 596.51,312.34 597.28,312.37 598.04,312.41 598.81,312.44 599.58,312.47 600.34,312.5 601.11,312.52 601.87,312.54 602.64,312.56 603.4,312.57 604.17,312.58 604.94,312.59 605.7,312.6 606.47,312.6 607.23,312.6 608,312.6 608.76,312.59 609.53,312.58 610.3,312.57 611.06,312.56 611.83,312.55 612.59,312.53 613.36,312.5 614.12,312.48 614.89,312.45 615.66,312.42 616.42,312.39 617.19,312.35 617.95,312.31 618.72,312.27 619.48,312.22 620.25,312.17 621.01,312.12 621.78,312.07 622.55,312.01 623.31,311.94 624.08,311.88 624.84,311.81 625.61,311.73 626.37,311.65 627.14,311.57 627.91,311.48 628.67,311.39 629.44,311.3 630.2,311.2 630.97,311.09 631.73,310.98 632.5,310.86 633.27,310.74 634.03,310.61 634.8,310.48 635.56,310.34 636.33,310.19 637.09,310.03 637.86,309.87 638.63,309.7 639.39,309.52 640.16,309.33 640.92,309.13 641.69,308.92 642.45,308.7 643.22,308.46 643.98,308.21 644.75,307.95 645.52,307.67 646.28,307.37 647.05,307.05 647.81,306.71 648.58,306.34 649.34,305.94 650.11,305.5 650.5,305.26 650.7,305.13 650.88,305.02 650.9,305 651.1,304.86 651.3,304.72 651.5,304.58 651.64,304.47 651.7,304.43 651.9,304.27 652.1,304.1 652.3,303.93 652.41,303.84 652.5,303.75 652.7,303.48 652.9,303.16 653.1,302.8 653.17,302.65 653.3,302.4 653.5,301.97 653.7,301.53 653.9,301.06 653.94,300.97 654.1,300.58 654.3,300.1 654.5,299.59 654.7,299.05 655.47,297.01 656.24,294.91 657,292.82 657.77,290.8 658.53,288.9 659.3,287.2 659.5,286.79 659.7,286.41 659.9,286.03 660.06,285.75 660.1,285.7 660.3,285.39 660.5,285.1 660.7,284.82 660.83,284.68 660.9,284.6 661.1,284.42 661.3,284.28 661.5,284.2 661.59,284.2 661.7,284.2 661.9,284.2 662.1,284.2 662.3,284.2 662.36,284.2 662.5,284.2 662.7,284.2 662.9,284.2 663.1,284.2 663.13,284.2 663.3,284.2 663.5,284.2 663.89,284.2 664.66,284.2 665.42,284.2 666.19,284.2 666.95,284.2 667.72,284.2 668.49,284.2 669.25,284.2 670.02,284.2 670.78,284.2 671.55,284.2 672.31,284.2 673.08,284.2 673.85,284.2 674.61,284.2 675.38,284.2 676.14,284.2 676.91,284.2 677.67,284.2 678.44,284.2 679.21,284.2 679.97,284.2 680.74,284.2 681.5,284.2 682.27,284.2 683.03,284.2 683.8,284.2 684.56,284.2 685.33,284.2 686.1,284.2 686.86,284.2 687.63,284.2 688.39,284.2 689.16,284.2 689.92,284.2 690.69,284.2 691.46,284.2 692.22,284.2 692.99,284.2 693.75,284.2 694.52,284.2 695.28,284.2 696.05,284.2 696.82,284.2 697.58,284.2 698.35,284.2 699.11,284.2 699.88,284.2 700.64,284.2 701.41,284.2 702.18,284.2 702.94,284.2 703.71,284.2 704.47,284.2 705.24,284.2 706,284.2 706.77,284.2 707.53,284.2 708.3,284.2 709.07,284.2 709.83,284.2 710.6,284.2 711.36,284.2 712.13,284.2 712.89,284.2 713.66,284.2 714.43,284.2 715.19,284.2 715.96,284.2 716.72,284.2 717.49,284.2 718.25,284.2 719.02,284.2 719.79,284.2 720.55,284.2 721.32,284.2 722.08,284.2 722.85,284.2 723.61,284.2 724.38,284.2 725.15,284.2 725.91,284.2 726.68,284.2 727.44,284.2 728.21,284.2 728.97,284.2 729.74,284.2 730.5,284.2 731.27,284.2 732.04,284.2 732.8,284.2 733.57,284.2 734.33,284.2 735.1,284.2 735.86,284.2 736.63,284.2 737.4,284.2 738.16,284.2 738.93,284.2 739.69,284.2 740.46,284.2 741.22,284.2 741.99,284.2 742.76,284.2 743.52,284.2 744.29,284.2 745.05,284.2 745.82,284.2 746.58,284.2 747.35,284.2 748.12,284.2 748.88,284.2 749.65,284.2 750.41,284.2 751.18,284.2 751.94,284.2 752.71,284.2 753.47,284.2 754.24,284.2 755.01,284.2 755.77,284.2 756.54,284.2 757.3,284.2 758.07,284.2 758.83,284.2 759.6,284.2" fill="none" stroke="#000" stroke-width="2"/>
<path d="M459.35 280.7V289.7M469 279.4V288.4M478.66 271.6V280.6M488.31 277.9V286.9M497.97 282.5V289.5M507.62 275.1V282.1M517.28 283.55V290.55M526.94 283.55V290.55M536.59 281V288M546.25 282.3V289.3M555.9 288V295M565.56 303.8V310.8M575.21 306.7V313.7M584.87 303.8V310.8M594.52 314.1V321.1M604.17 306.7V313.7M613.83 309.5V316.5M623.49 310.1V317.1M633.14 303.8V310.8M642.8 305.7V312.7M652.45 298.9V305.9M662.11 284.2V291.2M671.76 281.4V288.4M681.41 280.4V287.4M691.07 284.6V291.6M700.73 278.9V285.9M710.38 280.4V287.4M720.04 276.4V286.4M729.69 284.7V295.7M739.35 279.6V291.6M749 277.9V289.9M758.65 284.9V298.9" stroke="#ff8c00" stroke-width="1.6" stroke-opacity="0.7" fill="none"/>
<g fill="#ff8c00"><circle cx="459.35" cy="285.2" r="3.15"/><circle cx="469" cy="283.9" r="3.15"/><circle cx="478.66" cy="276.1" r="3.15"/><circle cx="488.31" cy="282.4" r="3.15"/><circle cx="497.97" cy="286" r="3.15"/><circle cx="507.62" cy="278.6" r="3.15"/><circle cx="517.28" cy="287.05" r="3.15"/><circle cx="526.94" cy="287.05" r="3.15"/><circle cx="536.59" cy="284.5" r="3.15"/><circle cx="546.25" cy="285.8" r="3.15"/><circle cx="555.9" cy="291.5" r="3.15"/><circle cx="565.56" cy="307.3" r="3.15"/><circle cx="575.21" cy="310.2" r="3.15"/><circle cx="584.87" cy="307.3" r="3.15"/><circle cx="594.52" cy="317.6" r="3.15"/><circle cx="604.17" cy="310.2" r="3.15"/><circle cx="613.83" cy="313" r="3.15"/><circle cx="623.49" cy="313.6" r="3.15"/><circle cx="633.14" cy="307.3" r="3.15"/><circle cx="642.8" cy="309.2" r="3.15"/><circle cx="652.45" cy="302.4" r="3.15"/><circle cx="662.11" cy="287.7" r="3.15"/><circle cx="671.76" cy="284.9" r="3.15"/><circle cx="681.41" cy="283.9" r="3.15"/><circle cx="691.07" cy="288.1" r="3.15"/><circle cx="700.73" cy="282.4" r="3.15"/><circle cx="710.38" cy="283.9" r="3.15"/><circle cx="720.04" cy="281.4" r="3.15"/><circle cx="729.69" cy="290.2" r="3.15"/><circle cx="739.35" cy="285.6" r="3.15"/><circle cx="749" cy="283.9" r="3.15"/><circle cx="758.65" cy="291.9" r="3.15"/></g>
</g>
<rect x="454.1" y="234" width="305.5" height="100.4" fill="none" stroke="#808080" stroke-width="1.5"/>
<path d="M451.6 312.89H454.1M451.6 284.2H454.1M451.6 255.51H454.1M452.6 327.23H454.1M452.6 298.54H454.1M452.6 269.86H454.1M452.6 241.17H454.1M468 334.4V336.9M481.89 334.4V335.9M495.79 334.4V335.9M509.68 334.4V335.9M523.58 334.4V335.9M537.47 334.4V336.9M551.37 334.4V335.9M565.26 334.4V335.9M579.16 334.4V335.9M593.05 334.4V335.9M606.95 334.4V336.9M620.85 334.4V335.9M634.74 334.4V335.9M648.64 334.4V335.9M662.53 334.4V335.9M676.43 334.4V336.9M690.32 334.4V335.9M704.22 334.4V335.9M718.11 334.4V335.9M732.01 334.4V335.9M745.9 334.4V336.9" stroke="#808080" stroke-width="0.9" fill="none"/>
<text x="449.6" y="259.41" font-size="11.6" text-anchor="end" textLength="30.8" lengthAdjust="spacingAndGlyphs" fill="#000" class="k">1.002</text>
<text x="449.6" y="288.1" font-size="11.6" text-anchor="end" textLength="30.8" lengthAdjust="spacingAndGlyphs" fill="#000" class="k">1.000</text>
<text x="449.6" y="316.79" font-size="11.6" text-anchor="end" textLength="30.8" lengthAdjust="spacingAndGlyphs" fill="#000" class="k">0.998</text>
<text transform="translate(405.2 284) rotate(-90)" font-size="13.6" text-anchor="middle" textLength="82" lengthAdjust="spacingAndGlyphs" fill="#000">Relative flux</text>
<text x="461.1" y="252.6" font-size="14.6" textLength="45" lengthAdjust="spacingAndGlyphs" fill="#ff8c00">i band</text>
<g clip-path="url(#cR3)">
<polyline points="454.1,389.7 454.87,389.7 455.63,389.7 456.4,389.7 457.16,389.7 457.93,389.7 458.69,389.7 459.46,389.7 460.23,389.7 460.99,389.7 461.76,389.7 462.52,389.7 463.29,389.7 464.05,389.7 464.82,389.7 465.58,389.7 466.35,389.7 467.12,389.7 467.88,389.7 468.65,389.7 469.41,389.7 470.18,389.7 470.94,389.7 471.71,389.7 472.48,389.7 473.24,389.7 474.01,389.7 474.77,389.7 475.54,389.7 476.3,389.7 477.07,389.7 477.84,389.7 478.6,389.7 479.37,389.7 480.13,389.7 480.9,389.7 481.66,389.7 482.43,389.7 483.2,389.7 483.96,389.7 484.73,389.7 485.49,389.7 486.26,389.7 487.02,389.7 487.79,389.7 488.55,389.7 489.32,389.7 490.09,389.7 490.85,389.7 491.62,389.7 492.38,389.7 493.15,389.7 493.91,389.7 494.68,389.7 495.45,389.7 496.21,389.7 496.98,389.7 497.74,389.7 498.51,389.7 499.27,389.7 500.04,389.7 500.81,389.7 501.57,389.7 502.34,389.7 503.1,389.7 503.87,389.7 504.63,389.7 505.4,389.7 506.17,389.7 506.93,389.7 507.7,389.7 508.46,389.7 509.23,389.7 509.99,389.7 510.76,389.7 511.52,389.7 512.29,389.7 513.06,389.7 513.82,389.7 514.59,389.7 515.35,389.7 516.12,389.7 516.88,389.7 517.65,389.7 518.42,389.7 519.18,389.7 519.95,389.7 520.71,389.7 521.48,389.7 522.24,389.7 523.01,389.7 523.78,389.7 524.54,389.7 525.31,389.7 526.07,389.7 526.84,389.7 527.6,389.7 528.37,389.7 529.14,389.7 529.9,389.7 530.67,389.7 531.43,389.7 532.2,389.7 532.96,389.7 533.73,389.7 534.49,389.7 535.26,389.7 536.03,389.7 536.79,389.7 537.56,389.7 538.32,389.7 539.09,389.7 539.85,389.7 540.62,389.7 541.39,389.7 542.15,389.7 542.92,389.7 543.68,389.7 544.45,389.7 545.21,389.7 545.98,389.7 546.75,389.7 547.51,389.7 548.28,389.7 549.04,389.7 549.81,389.7 550.5,389.7 550.57,389.7 550.7,389.7 550.9,389.7 551.1,389.7 551.3,389.7 551.34,389.7 551.5,389.7 551.7,389.7 551.9,389.7 552.1,389.7 552.11,389.7 552.3,389.7 552.5,389.7 552.7,389.79 552.87,389.91 552.9,389.96 553.1,390.17 553.3,390.41 553.5,390.73 553.64,390.94 553.7,391.05 553.9,391.41 554.1,391.78 554.3,392.2 554.4,392.43 554.5,392.63 555.17,394.22 555.93,396.25 556.7,398.44 557.46,400.71 558.23,403.03 559,405.28 559.5,406.72 559.7,407.26 559.76,407.44 559.9,407.79 560.1,408.3 560.3,408.81 560.5,409.28 560.53,409.36 560.7,409.74 560.9,410.16 561.1,410.55 561.29,410.86 561.3,410.88 561.5,411.15 561.7,411.33 561.9,411.5 562.06,411.62 562.1,411.65 562.3,411.81 562.5,411.95 562.7,412.09 562.82,412.18 562.9,412.23 563.1,412.36 563.3,412.49 563.5,412.61 563.59,412.67 564.36,413.11 565.12,413.51 565.89,413.87 566.65,414.21 567.42,414.53 568.18,414.82 568.95,415.1 569.72,415.35 570.48,415.6 571.25,415.83 572.01,416.04 572.78,416.25 573.54,416.44 574.31,416.62 575.07,416.8 575.84,416.97 576.61,417.12 577.37,417.27 578.14,417.42 578.9,417.55 579.67,417.68 580.43,417.81 581.2,417.92 581.97,418.04 582.73,418.14 583.5,418.24 584.26,418.34 585.03,418.43 585.79,418.52 586.56,418.6 587.33,418.68 588.09,418.76 588.86,418.83 589.62,418.9 590.39,418.96 591.15,419.02 591.92,419.08 592.69,419.13 593.45,419.18 594.22,419.23 594.98,419.27 595.75,419.32 596.51,419.35 597.28,419.39 598.04,419.42 598.81,419.45 599.58,419.48 600.34,419.5 601.11,419.52 601.87,419.54 602.64,419.56 603.4,419.57 604.17,419.58 604.94,419.59 605.7,419.6 606.47,419.6 607.23,419.6 608,419.6 608.76,419.59 609.53,419.59 610.3,419.58 611.06,419.56 611.83,419.55 612.59,419.53 613.36,419.51 614.12,419.49 614.89,419.46 615.66,419.43 616.42,419.4 617.19,419.37 617.95,419.33 618.72,419.29 619.48,419.25 620.25,419.2 621.01,419.15 621.78,419.1 622.55,419.05 623.31,418.99 624.08,418.92 624.84,418.86 625.61,418.79 626.37,418.71 627.14,418.64 627.91,418.55 628.67,418.47 629.44,418.38 630.2,418.28 630.97,418.18 631.73,418.08 632.5,417.97 633.27,417.85 634.03,417.73 634.8,417.6 635.56,417.47 636.33,417.33 637.09,417.18 637.86,417.03 638.63,416.87 639.39,416.69 640.16,416.51 640.92,416.32 641.69,416.12 642.45,415.91 643.22,415.69 643.98,415.45 644.75,415.2 645.52,414.93 646.28,414.64 647.05,414.34 647.81,414.01 648.58,413.65 649.34,413.27 650.11,412.85 650.5,412.61 650.7,412.49 650.88,412.38 650.9,412.36 651.1,412.23 651.3,412.09 651.5,411.95 651.64,411.85 651.7,411.81 651.9,411.65 652.1,411.5 652.3,411.33 652.41,411.23 652.5,411.15 652.7,410.88 652.9,410.55 653.1,410.16 653.17,410 653.3,409.74 653.5,409.28 653.7,408.81 653.9,408.3 653.94,408.21 654.1,407.79 654.3,407.26 654.5,406.72 654.7,406.14 655.47,403.92 656.24,401.62 657,399.33 657.77,397.09 658.53,394.99 659.3,393.1 659.5,392.63 659.7,392.2 659.9,391.78 660.06,391.47 660.1,391.41 660.3,391.05 660.5,390.73 660.7,390.41 660.83,390.25 660.9,390.17 661.1,389.96 661.3,389.79 661.5,389.7 661.59,389.7 661.7,389.7 661.9,389.7 662.1,389.7 662.3,389.7 662.36,389.7 662.5,389.7 662.7,389.7 662.9,389.7 663.1,389.7 663.13,389.7 663.3,389.7 663.5,389.7 663.89,389.7 664.66,389.7 665.42,389.7 666.19,389.7 666.95,389.7 667.72,389.7 668.49,389.7 669.25,389.7 670.02,389.7 670.78,389.7 671.55,389.7 672.31,389.7 673.08,389.7 673.85,389.7 674.61,389.7 675.38,389.7 676.14,389.7 676.91,389.7 677.67,389.7 678.44,389.7 679.21,389.7 679.97,389.7 680.74,389.7 681.5,389.7 682.27,389.7 683.03,389.7 683.8,389.7 684.56,389.7 685.33,389.7 686.1,389.7 686.86,389.7 687.63,389.7 688.39,389.7 689.16,389.7 689.92,389.7 690.69,389.7 691.46,389.7 692.22,389.7 692.99,389.7 693.75,389.7 694.52,389.7 695.28,389.7 696.05,389.7 696.82,389.7 697.58,389.7 698.35,389.7 699.11,389.7 699.88,389.7 700.64,389.7 701.41,389.7 702.18,389.7 702.94,389.7 703.71,389.7 704.47,389.7 705.24,389.7 706,389.7 706.77,389.7 707.53,389.7 708.3,389.7 709.07,389.7 709.83,389.7 710.6,389.7 711.36,389.7 712.13,389.7 712.89,389.7 713.66,389.7 714.43,389.7 715.19,389.7 715.96,389.7 716.72,389.7 717.49,389.7 718.25,389.7 719.02,389.7 719.79,389.7 720.55,389.7 721.32,389.7 722.08,389.7 722.85,389.7 723.61,389.7 724.38,389.7 725.15,389.7 725.91,389.7 726.68,389.7 727.44,389.7 728.21,389.7 728.97,389.7 729.74,389.7 730.5,389.7 731.27,389.7 732.04,389.7 732.8,389.7 733.57,389.7 734.33,389.7 735.1,389.7 735.86,389.7 736.63,389.7 737.4,389.7 738.16,389.7 738.93,389.7 739.69,389.7 740.46,389.7 741.22,389.7 741.99,389.7 742.76,389.7 743.52,389.7 744.29,389.7 745.05,389.7 745.82,389.7 746.58,389.7 747.35,389.7 748.12,389.7 748.88,389.7 749.65,389.7 750.41,389.7 751.18,389.7 751.94,389.7 752.71,389.7 753.47,389.7 754.24,389.7 755.01,389.7 755.77,389.7 756.54,389.7 757.3,389.7 758.07,389.7 758.83,389.7 759.6,389.7" fill="none" stroke="#000" stroke-width="2"/>
<path d="M459.35 382V392M469 382.4V392.4M478.66 389.2V399.2M488.31 383.9V393.9M497.97 378.6V388.6M507.62 394V404M517.28 380.3V390.3M526.94 382V392M536.59 382V392M546.25 389.4V399.4M555.9 392.3V402.3M565.56 411.5V421.5M575.21 416.1V426.1M584.87 415.5V425.5M594.52 413.2V423.2M604.17 413.4V423.4M613.83 408.2V418.2M623.49 417.6V427.6M633.14 408.1V418.1M642.8 413.6V423.6M652.45 405.2V415.2M662.11 389.2V399.2M671.76 387.1V397.1M681.41 377.2V387.2M691.07 387.7V397.7M700.73 388.3V398.3M710.38 380.9V390.9M720.04 382.4V392.4M729.69 384.2V396.2M739.35 386.1V398.1M749 390.9V402.9M758.65 378.7V390.7" stroke="#ff0000" stroke-width="1.6" stroke-opacity="0.7" fill="none"/>
<g fill="#ff0000"><circle cx="459.35" cy="387" r="3.15"/><circle cx="469" cy="387.4" r="3.15"/><circle cx="478.66" cy="394.2" r="3.15"/><circle cx="488.31" cy="388.9" r="3.15"/><circle cx="497.97" cy="383.6" r="3.15"/><circle cx="507.62" cy="399" r="3.15"/><circle cx="517.28" cy="385.3" r="3.15"/><circle cx="526.94" cy="387" r="3.15"/><circle cx="536.59" cy="387" r="3.15"/><circle cx="546.25" cy="394.4" r="3.15"/><circle cx="555.9" cy="397.3" r="3.15"/><circle cx="565.56" cy="416.5" r="3.15"/><circle cx="575.21" cy="421.1" r="3.15"/><circle cx="584.87" cy="420.5" r="3.15"/><circle cx="594.52" cy="418.2" r="3.15"/><circle cx="604.17" cy="418.4" r="3.15"/><circle cx="613.83" cy="413.2" r="3.15"/><circle cx="623.49" cy="422.6" r="3.15"/><circle cx="633.14" cy="413.1" r="3.15"/><circle cx="642.8" cy="418.6" r="3.15"/><circle cx="652.45" cy="410.2" r="3.15"/><circle cx="662.11" cy="394.2" r="3.15"/><circle cx="671.76" cy="392.1" r="3.15"/><circle cx="681.41" cy="382.2" r="3.15"/><circle cx="691.07" cy="392.7" r="3.15"/><circle cx="700.73" cy="393.3" r="3.15"/><circle cx="710.38" cy="385.9" r="3.15"/><circle cx="720.04" cy="387.4" r="3.15"/><circle cx="729.69" cy="390.2" r="3.15"/><circle cx="739.35" cy="392.1" r="3.15"/><circle cx="749" cy="396.9" r="3.15"/><circle cx="758.65" cy="384.7" r="3.15"/></g>
</g>
<rect x="454.1" y="339.6" width="305.5" height="100.2" fill="none" stroke="#808080" stroke-width="1.5"/>
<path d="M451.6 418.33H454.1M451.6 389.7H454.1M451.6 361.07H454.1M452.6 432.64H454.1M452.6 404.01H454.1M452.6 375.39H454.1M452.6 346.76H454.1M468 439.8V442.3M481.89 439.8V441.3M495.79 439.8V441.3M509.68 439.8V441.3M523.58 439.8V441.3M537.47 439.8V442.3M551.37 439.8V441.3M565.26 439.8V441.3M579.16 439.8V441.3M593.05 439.8V441.3M606.95 439.8V442.3M620.85 439.8V441.3M634.74 439.8V441.3M648.64 439.8V441.3M662.53 439.8V441.3M676.43 439.8V442.3M690.32 439.8V441.3M704.22 439.8V441.3M718.11 439.8V441.3M732.01 439.8V441.3M745.9 439.8V442.3" stroke="#808080" stroke-width="0.9" fill="none"/>
<text x="449.6" y="364.97" font-size="11.6" text-anchor="end" textLength="30.8" lengthAdjust="spacingAndGlyphs" fill="#000" class="k">1.002</text>
<text x="449.6" y="393.6" font-size="11.6" text-anchor="end" textLength="30.8" lengthAdjust="spacingAndGlyphs" fill="#000" class="k">1.000</text>
<text x="449.6" y="422.23" font-size="11.6" text-anchor="end" textLength="30.8" lengthAdjust="spacingAndGlyphs" fill="#000" class="k">0.998</text>
<text transform="translate(405.2 389.5) rotate(-90)" font-size="13.6" text-anchor="middle" textLength="82" lengthAdjust="spacingAndGlyphs" fill="#000">Relative flux</text>
<text x="461.1" y="358.2" font-size="14.6" fill="#ff0000"><tspan font-style="italic">z</tspan></text>
<text x="468.3" y="360.8" font-size="10.4" font-style="italic" fill="#ff0000">s</text>
<text x="479.3" y="358.2" font-size="14.6" textLength="34.5" lengthAdjust="spacingAndGlyphs" fill="#ff0000">band</text>
<text x="468" y="452.4" font-size="11.2" text-anchor="middle" textLength="32.6" lengthAdjust="spacingAndGlyphs" fill="#000" class="k">−0.10</text>
<text x="537.47" y="452.4" font-size="11.2" text-anchor="middle" textLength="32.6" lengthAdjust="spacingAndGlyphs" fill="#000" class="k">−0.05</text>
<text x="606.95" y="452.4" font-size="11.2" text-anchor="middle" textLength="24" lengthAdjust="spacingAndGlyphs" fill="#000" class="k">0.00</text>
<text x="676.43" y="452.4" font-size="11.2" text-anchor="middle" textLength="24" lengthAdjust="spacingAndGlyphs" fill="#000" class="k">0.05</text>
<text x="745.9" y="452.4" font-size="11.2" text-anchor="middle" textLength="24" lengthAdjust="spacingAndGlyphs" fill="#000" class="k">0.10</text>
<text x="606.95" y="477.1" font-size="16.2" text-anchor="middle" textLength="241.5" lengthAdjust="spacingAndGlyphs" fill="#000">Time from transit center (days)</text>
<text x="606.95" y="11.7" font-size="16.4" text-anchor="middle" textLength="80.5" lengthAdjust="spacingAndGlyphs" fill="#000">TOI-1749d</text>
</svg></body></html>
